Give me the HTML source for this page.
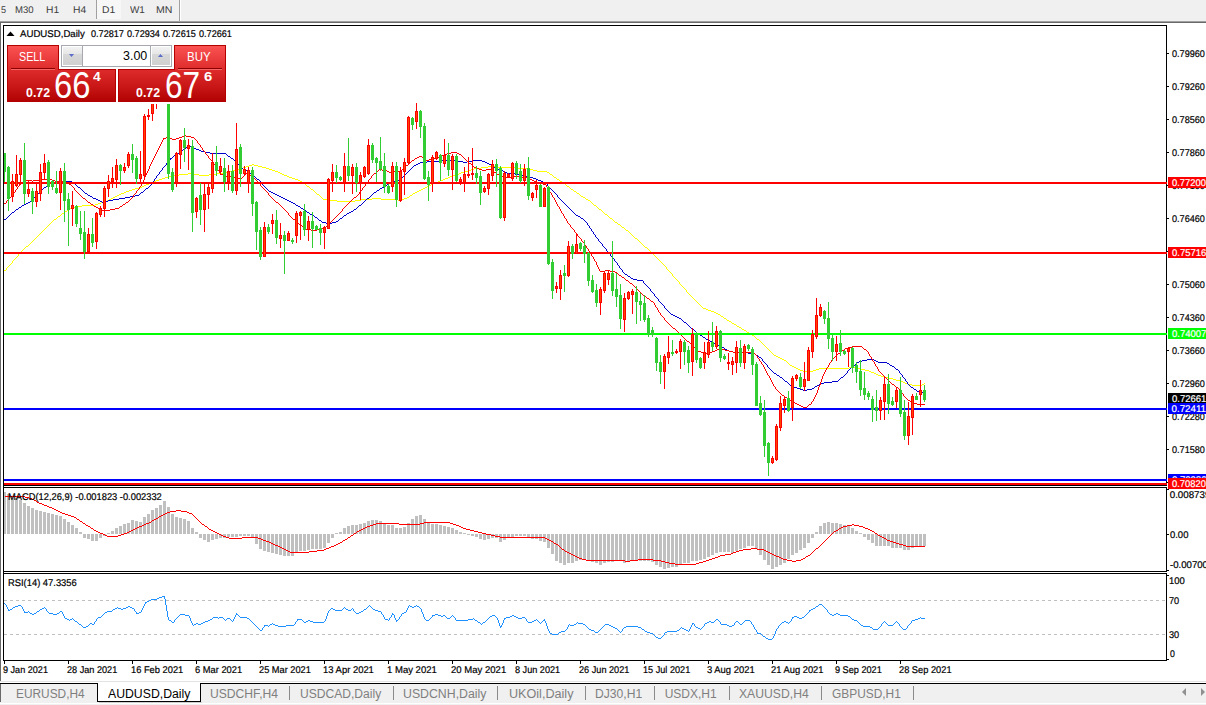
<!DOCTYPE html>
<html><head><meta charset="utf-8"><title>AUDUSD,Daily</title>
<style>
html,body{margin:0;padding:0;background:#fff;}
body{width:1206px;height:705px;overflow:hidden;position:relative;font-family:"Liberation Sans",sans-serif;}
.t{position:absolute;white-space:pre;line-height:1;transform-origin:0 0;font-family:"Liberation Sans",sans-serif;}
.abs{position:absolute;}
svg{position:absolute;left:0;top:0;}
</style></head><body>
<!-- toolbar -->
<div class="abs" style="left:0;top:0;width:1206px;height:21px;background:#f0f0f0"></div>
<div class="abs" style="left:96px;top:0;width:1px;height:19px;background:#a0a0a0"></div>
<div class="abs" style="left:97px;top:0;width:24px;height:19px;background:#f7f7f7"></div>
<div class="abs" style="left:179px;top:0;width:1px;height:21px;background:#a0a0a0"></div>
<div class="abs" style="left:180px;top:0;width:1px;height:21px;background:#fff"></div>
<div class="abs" style="left:0;top:21px;width:1206px;height:1px;background:#a0a0a0"></div>
<div class="abs" style="left:0;top:22px;width:1206px;height:1px;background:#696969"></div>
<div class="abs" style="left:0;top:22px;width:1px;height:659px;background:#696969"></div>
<!-- chart -->
<svg width="1206" height="705" viewBox="0 0 1206 705">
<g shape-rendering="crispEdges">
<path d="M4 270.5h2M6.5 268v2M7 267.5h1M8 266.5h1M9 265.5h1M10 264.5h1M11 263.5h1M12.5 261v2M13 260.5h1M14 259.5h1M15 258.5h1M16 257.5h1M17 256.5h1M18.5 254v2M19 253.5h1M20 252.5h1M21 251.5h1M22 250.5h1M23 249.5h1M24 248.5h1M25 247.5h1M26 246.5h2M28 245.5h1M29 244.5h1M30 243.5h1M31 242.5h1M32 241.5h1M33 240.5h1M34 239.5h1M35 238.5h1M36 237.5h1M37 236.5h1M38 235.5h1M39 234.5h1M40 233.5h1M41 232.5h1M42 231.5h1M43 230.5h1M44 229.5h1M45 228.5h1M46 227.5h1M47 226.5h1M48 225.5h1M49 224.5h1M50 223.5h1M51 222.5h1M52 221.5h1M53 220.5h1M54 219.5h2M56 218.5h1M57 217.5h1M58 216.5h2M60 215.5h1M61 214.5h1M62 213.5h2M64 212.5h1M65 211.5h2M67 210.5h2M69 209.5h1M70 208.5h2M72 207.5h4M76 206.5h6M82 205.5h13M95 204.5h3M98 203.5h3M101 202.5h3M104 201.5h3M107 200.5h2M109 199.5h2M111 198.5h2M113 197.5h2M115 196.5h2M117 195.5h2M119 194.5h2M121 193.5h3M124 192.5h2M126 191.5h3M129 190.5h3M132 189.5h3M135 188.5h4M139 187.5h3M142 186.5h2M144 185.5h2M146 184.5h3M149 183.5h2M151 182.5h3M154 181.5h2M156 180.5h3M159 179.5h3M162 178.5h3M165 177.5h4M169 176.5h5M174 175.5h5M179 174.5h9M188 173.5h4M192 174.5h7M199 175.5h10M209 174.5h8M217 173.5h8M225 172.5h4M229 171.5h4M233 170.5h4M237 169.5h3M240 168.5h3M243 167.5h3M246 166.5h3M249 165.5h3M252 164.5h2M254 165.5h4M258 166.5h4M262 167.5h4M266 168.5h3M269 169.5h3M272 170.5h3M275 171.5h3M278 172.5h2M280 173.5h2M282 174.5h2M284 175.5h3M287 176.5h2M289 177.5h3M292 178.5h3M295 179.5h3M298 180.5h2M300 181.5h2M302 182.5h1M303 183.5h2M305 184.5h1M306 185.5h1M307 186.5h2M309 187.5h1M310 188.5h1M311 189.5h2M313 190.5h1M314 191.5h1M315 192.5h1M316 193.5h1M317 194.5h2M319 195.5h1M320 196.5h1M321 197.5h1M322 198.5h1M323 199.5h5M328 200.5h9M337 201.5h18M355 200.5h6M361 199.5h11M372 198.5h9M381 199.5h17M398 200.5h3M401 199.5h3M404 198.5h3M407 197.5h2M409 196.5h1M410 195.5h2M412 194.5h1M413 193.5h2M415 192.5h2M417 191.5h2M419 190.5h2M421 189.5h2M423 188.5h2M425 187.5h2M427 186.5h2M429 185.5h2M431 184.5h2M433 183.5h3M436 182.5h2M438 181.5h2M440 180.5h3M443 179.5h2M445 178.5h3M448 177.5h2M450 176.5h3M453 175.5h3M456 174.5h3M459 173.5h2M461 172.5h3M464 171.5h4M468 170.5h3M471 169.5h3M474 168.5h7M481 167.5h7M488 166.5h7M495 167.5h23M518 168.5h11M529 169.5h4M533 170.5h4M537 171.5h10M547 172.5h2M549 173.5h1M550 174.5h2M552 175.5h1M553 176.5h1M554 177.5h2M556 178.5h1M557 179.5h2M559 180.5h1M560 181.5h2M562 182.5h1M563 183.5h2M565 184.5h1M566 185.5h1M567 186.5h2M569 187.5h1M570 188.5h1M571 189.5h2M573 190.5h1M574 191.5h2M576 192.5h1M577 193.5h2M579 194.5h1M580 195.5h1M581 196.5h2M583 197.5h2M585 198.5h1M586 199.5h2M588 200.5h2M590 201.5h1M591 202.5h1M592 203.5h1M593 204.5h1M594 205.5h2M596 206.5h1M597 207.5h1M598 208.5h1M599 209.5h2M601 210.5h1M602 211.5h1M603 212.5h1M604 213.5h1M605 214.5h2M607 215.5h1M608 216.5h1M609 217.5h1M610 218.5h2M612 219.5h1M613 220.5h1M614 221.5h1M615 222.5h2M617 223.5h1M618 224.5h2M620 225.5h1M621 226.5h1M622 227.5h2M624 228.5h1M625 229.5h1M626 230.5h2M628 231.5h1M629 232.5h1M630 233.5h1M631 234.5h1M632 235.5h1M633 236.5h1M634 237.5h1M635 238.5h2M637 239.5h1M638 240.5h1M639 241.5h1M640 242.5h1M641 243.5h1M642 244.5h1M643 245.5h1M644 246.5h1M645 247.5h2M647 248.5h1M648 249.5h1M649 250.5h1M650 251.5h1M651 252.5h1M652 253.5h1M653 254.5h1M654 255.5h1M655 256.5h1M656 257.5h1M657 258.5h1M658 259.5h1M659 260.5h1M660 261.5h1M661 262.5h1M662 263.5h1M663 264.5h1M664 265.5h1M665 266.5h1M666.5 267v2M667 269.5h1M668 270.5h1M669 271.5h1M670 272.5h1M671 273.5h1M672.5 274v2M673 276.5h1M674 277.5h1M675 278.5h1M676 279.5h1M677 280.5h1M678 281.5h1M679.5 282v2M680 284.5h1M681 285.5h1M682 286.5h1M683 287.5h1M684 288.5h1M685 289.5h1M686.5 290v2M687 292.5h1M688 293.5h1M689 294.5h1M690 295.5h1M691 296.5h1M692 297.5h1M693 298.5h1M694 299.5h1M695 300.5h1M696 301.5h1M697 302.5h1M698 303.5h1M699 304.5h1M700 305.5h1M701 306.5h1M702 307.5h1M703 308.5h3M706 309.5h2M708 310.5h3M711 311.5h3M714 312.5h2M716 313.5h2M718 314.5h2M720 315.5h1M721 316.5h2M723 317.5h1M724 318.5h2M726 319.5h1M727 320.5h2M729 321.5h2M731 322.5h1M732 323.5h2M734 324.5h2M736 325.5h1M737 326.5h2M739 327.5h2M741 328.5h1M742 329.5h2M744 330.5h2M746 331.5h1M747 332.5h2M749 333.5h2M751 334.5h1M752 335.5h2M754 336.5h1M755 337.5h1M756 338.5h1M757 339.5h2M759 340.5h1M760 341.5h1M761 342.5h1M762 343.5h1M763 344.5h1M764 345.5h1M765 346.5h1M766 347.5h1M767 348.5h1M768 349.5h1M769 350.5h1M770 351.5h1M771 352.5h1M772 353.5h1M773 354.5h1M774 355.5h2M776 356.5h2M778 357.5h2M780 358.5h2M782 359.5h2M784 360.5h2M786 361.5h1M787 362.5h1M788 363.5h1M789 364.5h1M790 365.5h2M792 366.5h2M794 367.5h2M796 368.5h2M798 369.5h2M800 370.5h3M803 371.5h10M813 370.5h3M816 369.5h3M819 368.5h30M849 367.5h8M857 368.5h4M861 369.5h4M865 370.5h4M869 371.5h2M871 372.5h3M874 373.5h2M876 374.5h2M878 375.5h3M881 376.5h4M885 377.5h4M889 378.5h4M893 379.5h3M896 380.5h4M900 381.5h3M903 382.5h2M905 383.5h3M908 384.5h4M912 385.5h10M922 384.5h2M924 383.5h1" fill="none" stroke="#ffff00" stroke-width="1"/>
<path d="M4 219.5h2M6 218.5h1M7 217.5h1M8 216.5h1M9 215.5h1M10 214.5h1M11 213.5h1M12 212.5h2M14 211.5h1M15 210.5h1M16 209.5h2M18 208.5h1M19 207.5h2M21 206.5h1M22 205.5h2M24 204.5h2M26 203.5h2M28 202.5h2M30 201.5h1M31 200.5h1M32 199.5h1M33 198.5h1M34 197.5h1M35 196.5h1M36 195.5h1M37 194.5h1M38 193.5h1M39 192.5h1M40 191.5h1M41 190.5h1M42 189.5h1M43 188.5h1M44 187.5h2M46 186.5h1M47 185.5h1M48 184.5h2M50 183.5h2M52 182.5h3M55 181.5h17M72 182.5h1M73 183.5h2M75 184.5h1M76 185.5h1M77 186.5h1M78 187.5h2M80 188.5h1M81 189.5h1M82 190.5h1M83 191.5h1M84 192.5h1M85 193.5h2M87 194.5h1M88 195.5h2M90 196.5h2M92 197.5h1M93 198.5h3M96 199.5h2M98 200.5h2M100 201.5h2M102 202.5h1M103 201.5h5M108 200.5h5M113 199.5h6M119 198.5h6M125 197.5h5M130 196.5h5M135 195.5h4M139 194.5h1M140 193.5h1M141 192.5h2M143 191.5h1M144 190.5h1M145 189.5h1M146 188.5h2M148 187.5h1M149 186.5h1M150 185.5h1M151.5 183v2M152 182.5h1M153 181.5h1M154.5 179v2M155 178.5h1M156.5 176v2M157 175.5h1M158 174.5h1M159.5 172v2M160 171.5h1M161 170.5h1M162.5 168v2M163 167.5h1M164 166.5h1M165 165.5h1M166.5 163v2M167 162.5h1M168 161.5h1M169 160.5h1M170.5 158v2M171 158.5h1M172 157.5h1M173 156.5h1M174 155.5h2M176 154.5h1M177 153.5h2M179 152.5h1M180 151.5h2M182 150.5h1M183 149.5h2M185 148.5h1M186 147.5h2M188 146.5h3M191 147.5h3M194 148.5h2M196 149.5h3M199 150.5h2M201 151.5h4M205 152.5h5M210 153.5h16M226 154.5h1M227 155.5h1M228 156.5h2M230 157.5h1M231 158.5h2M233 159.5h1M234 160.5h1M235 161.5h1M236 162.5h1M237 163.5h1M238 164.5h1M239 165.5h1M240 166.5h1M241 167.5h1M242 168.5h1M243 169.5h2M245 170.5h2M247 171.5h1M248 172.5h2M250 173.5h1M251 174.5h1M252 175.5h2M254 176.5h1M255 177.5h1M256 178.5h1M257 179.5h2M259 180.5h1M260 181.5h1M261.5 182v2M262 184.5h1M263 185.5h1M264 186.5h1M265 187.5h1M266 188.5h1M267 189.5h1M268 190.5h1M269 191.5h2M271 192.5h2M273 193.5h2M275 194.5h2M277 195.5h2M279 196.5h2M281 197.5h2M283 198.5h2M285 199.5h2M287 200.5h2M289 201.5h2M291 202.5h2M293 203.5h2M295 204.5h1M296 205.5h2M298 206.5h2M300 207.5h1M301 208.5h2M303 209.5h1M304 210.5h2M306 211.5h1M307 212.5h2M309 213.5h1M310 214.5h2M312 215.5h2M314 216.5h1M315 217.5h2M317 218.5h1M318 219.5h1M319 220.5h2M321 221.5h1M322 222.5h4M326 223.5h6M332 222.5h4M336 221.5h2M338 220.5h1M339 219.5h1M340 218.5h2M342 217.5h1M343 216.5h1M344 215.5h2M346 214.5h1M347 213.5h2M349 212.5h2M351 211.5h2M353 210.5h1M354 209.5h2M356 208.5h1M357 207.5h1M358 206.5h1M359 205.5h2M361 204.5h1M362 203.5h1M363 202.5h1M364 201.5h1M365 200.5h1M366 199.5h1M367 198.5h2M369 197.5h1M370 196.5h1M371 195.5h1M372 194.5h1M373 193.5h1M374 192.5h2M376 191.5h1M377 190.5h2M379 189.5h1M380 188.5h2M382 187.5h2M384 186.5h1M385 185.5h2M387 184.5h1M388 183.5h1M389 182.5h2M391 181.5h4M395 180.5h4M399 179.5h2M401 178.5h1M402 177.5h1M403 176.5h1M404 175.5h1M405 174.5h1M406 173.5h1M407 172.5h1M408 171.5h1M409 170.5h1M410 169.5h1M411 168.5h1M412 167.5h1M413 166.5h1M414 165.5h2M416 164.5h2M418 163.5h2M420 162.5h7M427 161.5h15M442 160.5h14M456 161.5h7M463 162.5h4M467 161.5h5M472 160.5h10M482 161.5h3M485 162.5h2M487 163.5h2M489 164.5h2M491 165.5h2M493 166.5h1M494 167.5h2M496 168.5h2M498 169.5h2M500 170.5h3M503 171.5h2M505 172.5h2M507 173.5h8M515 174.5h6M521 175.5h5M526 176.5h3M529 177.5h4M533 178.5h3M536 179.5h2M538 180.5h3M541 181.5h2M543 182.5h2M545 183.5h2M547.5 184v2M548 186.5h1M549 187.5h1M550 188.5h1M551 189.5h1M552 190.5h1M553 191.5h1M554 192.5h1M555 193.5h1M556 194.5h1M557.5 195v2M558 197.5h1M559 198.5h1M560 199.5h1M561 200.5h1M562 201.5h1M563 202.5h1M564 203.5h1M565 204.5h1M566 205.5h1M567 206.5h1M568 207.5h1M569 208.5h1M570 209.5h1M571 210.5h1M572 211.5h1M573 212.5h1M574 213.5h1M575 214.5h1M576 215.5h2M578 216.5h2M580 217.5h1M581 218.5h2M583 219.5h1M584 220.5h1M585 221.5h1M586 222.5h1M587.5 223v2M588 225.5h1M589.5 226v2M590 228.5h1M591.5 229v2M592 231.5h1M593.5 232v2M594 234.5h1M595.5 235v2M596 237.5h1M597 238.5h1M598.5 239v2M599 241.5h1M600 242.5h1M601 243.5h1M602.5 244v2M603 246.5h1M604 247.5h1M605 248.5h1M606.5 249v2M607 251.5h1M608 252.5h1M609 253.5h1M610.5 254v2M611 256.5h1M612 257.5h1M613 258.5h1M614.5 259v2M615 261.5h1M616 262.5h1M617.5 263v2M618 265.5h1M619.5 266v2M620 268.5h1M621 269.5h1M622.5 270v2M623 272.5h1M624 273.5h1M625 274.5h2M627 275.5h1M628 276.5h2M630 277.5h1M631 278.5h2M633 279.5h4M637 280.5h6M643.5 281v2M644 283.5h1M645 284.5h1M646 285.5h1M647 286.5h1M648 287.5h1M649 288.5h1M650.5 289v2M651 291.5h1M652 292.5h1M653 293.5h1M654.5 294v2M655 296.5h1M656 297.5h1M657 298.5h1M658.5 299v2M659 301.5h1M660 302.5h1M661 303.5h1M662 304.5h1M663 305.5h1M664.5 306v2M665 308.5h1M666 309.5h1M667 310.5h1M668 311.5h1M669 312.5h1M670 313.5h1M671 314.5h2M673 315.5h2M675 316.5h2M677 317.5h2M679 318.5h2M681 319.5h1M682 320.5h1M683 321.5h1M684 322.5h2M686 323.5h1M687 324.5h1M688 325.5h1M689 326.5h1M690 327.5h1M691 328.5h2M693 329.5h1M694 330.5h1M695 331.5h1M696 332.5h1M697 333.5h2M699 334.5h1M700 335.5h2M702 336.5h1M703 337.5h2M705 338.5h1M706 339.5h2M708 340.5h2M710 341.5h2M712 342.5h2M714 343.5h2M716 344.5h2M718 345.5h2M720 346.5h2M722 347.5h2M724 348.5h1M725 349.5h2M727 350.5h2M729 351.5h4M733 352.5h15M748 353.5h7M755 354.5h1M756 355.5h2M758 356.5h1M759 357.5h2M761 358.5h1M762.5 359v2M763 361.5h1M764 362.5h1M765 363.5h1M766 364.5h1M767.5 365v2M768 367.5h1M769 368.5h1M770 369.5h1M771 370.5h1M772 371.5h1M773 372.5h1M774 373.5h2M776 374.5h1M777 375.5h2M779 376.5h1M780 377.5h2M782 378.5h1M783 379.5h1M784 380.5h1M785 381.5h2M787 382.5h1M788 383.5h1M789 384.5h1M790 385.5h1M791 386.5h3M794 387.5h3M797 388.5h3M800 389.5h3M803 390.5h4M807 389.5h5M812 388.5h2M814 387.5h1M815 386.5h2M817 385.5h2M819 384.5h2M821 383.5h3M824 382.5h8M832 381.5h6M838 380.5h1M839 379.5h1M840 378.5h1M841 377.5h2M843 376.5h1M844 375.5h1M845 374.5h1M846 373.5h1M847.5 371v2M848 370.5h1M849 369.5h1M850 368.5h1M851 367.5h1M852 366.5h2M854 365.5h1M855 364.5h1M856 363.5h1M857 362.5h2M859 361.5h3M862 360.5h5M867 359.5h7M874 360.5h2M876 361.5h2M878 362.5h9M887 363.5h2M889 364.5h1M890 365.5h2M892 366.5h2M894 367.5h1M895 368.5h1M896 369.5h2M898 370.5h1M899.5 371v2M900 373.5h1M901 374.5h1M902.5 375v2M903 377.5h1M904 378.5h1M905.5 379v2M906 381.5h1M907.5 382v2M908 384.5h1M909 385.5h1M910 386.5h1M911 387.5h2M913 388.5h1M914 389.5h2M916 390.5h1M917 391.5h3M920 392.5h5" fill="none" stroke="#0000cd" stroke-width="1"/>
<path d="M4 203.5h2M6.5 201v2M7 200.5h1M8 199.5h1M9 198.5h1M10 197.5h1M11.5 195v2M12 194.5h1M13 193.5h1M14 192.5h1M15.5 190v2M16 189.5h1M17.5 187v2M18 186.5h1M19.5 184v2M20 183.5h2M22 182.5h1M23 181.5h1M24 180.5h1M25 179.5h1M26 180.5h6M32 181.5h1M33 180.5h7M40 179.5h12M52 180.5h3M55 181.5h10M65 182.5h2M67 183.5h2M69 184.5h2M71 185.5h1M72 186.5h1M73 187.5h1M74.5 188v2M75 190.5h1M76 191.5h1M77 192.5h1M78 193.5h1M79 194.5h1M80 195.5h1M81 196.5h1M82 197.5h1M83 198.5h2M85 199.5h1M86 200.5h1M87 201.5h1M88 202.5h2M90 203.5h1M91 204.5h2M93 205.5h1M94 206.5h2M96 207.5h2M98 208.5h2M100 209.5h2M102 210.5h2M104 211.5h1M105 210.5h5M110 209.5h5M115 208.5h4M119 207.5h1M120 206.5h2M122 205.5h1M123 204.5h2M125 203.5h1M126 202.5h2M128 201.5h1M129 200.5h1M130 199.5h1M131 198.5h1M132 197.5h1M133.5 195v2M134 194.5h1M135 193.5h1M136.5 191v2M137 190.5h1M138 189.5h1M139.5 187v2M140 186.5h1M141.5 184v2M142.5 182v2M143.5 180v2M144.5 177v3M145.5 175v2M146.5 173v2M147.5 171v2M148.5 169v2M149.5 166v3M150.5 164v2M151.5 162v2M152.5 160v2M153.5 158v2M154.5 156v2M155.5 154v2M156.5 152v2M157.5 150v2M158.5 148v2M159.5 146v2M160.5 144v2M161.5 142v2M162.5 140v2M163.5 138v2M164 138.5h2M166 137.5h4M170 138.5h2M172 139.5h4M176 138.5h3M179 137.5h3M182 136.5h3M185 135.5h1M186 136.5h5M191 137.5h3M194 138.5h1M195 139.5h1M196 140.5h1M197.5 141v2M198 143.5h1M199 144.5h1M200.5 145v2M201 147.5h1M202.5 148v2M203 150.5h1M204 151.5h1M205.5 152v2M206 154.5h1M207 155.5h1M208.5 156v2M209 158.5h1M210 159.5h1M211 160.5h1M212.5 161v2M213 163.5h1M214 164.5h1M215.5 165v2M216 167.5h1M217.5 168v2M218 170.5h1M219.5 171v2M220.5 173v2M221 174.5h2M223 175.5h3M226 176.5h8M234 177.5h3M237 178.5h3M240 179.5h1M241 178.5h1M242 177.5h1M243 176.5h1M244 175.5h1M245 174.5h1M246 173.5h1M247 174.5h2M249 175.5h2M251 176.5h2M253 177.5h1M254 178.5h1M255 179.5h1M256 180.5h1M257 181.5h1M258 182.5h1M259 183.5h1M260.5 184v2M261 186.5h1M262 187.5h1M263 188.5h1M264 189.5h1M265 190.5h1M266 191.5h1M267 192.5h1M268.5 193v2M269 195.5h1M270 196.5h1M271 197.5h1M272 198.5h1M273 199.5h1M274 200.5h1M275 201.5h1M276 202.5h2M278 203.5h1M279 204.5h1M280 205.5h1M281 206.5h1M282 207.5h1M283 208.5h1M284 209.5h1M285 210.5h1M286 211.5h1M287 212.5h1M288.5 213v2M289 215.5h1M290 216.5h1M291 217.5h1M292 218.5h1M293 219.5h2M295 220.5h1M296 221.5h1M297 222.5h1M298 223.5h1M299 224.5h1M300 225.5h2M302 226.5h1M303 227.5h1M304 228.5h1M305 229.5h6M311 230.5h6M317 229.5h4M321 228.5h3M324 227.5h2M326 226.5h1M327 225.5h1M328 224.5h1M329 223.5h1M330 222.5h1M331 221.5h1M332 220.5h1M333 219.5h1M334 218.5h1M335 217.5h1M336 216.5h1M337 215.5h1M338 214.5h1M339 213.5h1M340 212.5h1M341 211.5h1M342.5 209v2M343 208.5h1M344 207.5h1M345 206.5h1M346 205.5h1M347 204.5h1M348 203.5h1M349 202.5h1M350 201.5h1M351 200.5h1M352 199.5h1M353 198.5h1M354 197.5h2M356 196.5h1M357 195.5h1M358 194.5h1M359.5 192v2M360 191.5h1M361 190.5h1M362.5 188v2M363 187.5h1M364 186.5h1M365.5 184v2M366 183.5h1M367 182.5h1M368.5 180v2M369 179.5h1M370 178.5h1M371.5 176v2M372 175.5h1M373 174.5h1M374 173.5h2M376 172.5h1M377 171.5h1M378 170.5h1M379 169.5h3M382 170.5h5M387 171.5h2M389 172.5h5M394 171.5h6M400 170.5h2M402 169.5h1M403 168.5h1M404 167.5h1M405 166.5h1M406 165.5h2M408 164.5h1M409 163.5h1M410 162.5h1M411 161.5h1M412 160.5h2M414 159.5h1M415 158.5h2M417 157.5h2M419 156.5h3M422 157.5h1M423 158.5h2M425 159.5h1M426 160.5h3M429 159.5h5M434 158.5h3M437 157.5h3M440 156.5h2M442 155.5h3M445 154.5h2M447 153.5h4M451 152.5h6M457 153.5h2M459 154.5h2M461 155.5h1M462 156.5h1M463 157.5h1M464 158.5h1M465 159.5h1M466 160.5h1M467 161.5h1M468 162.5h1M469 163.5h2M471 164.5h1M472 165.5h1M473 166.5h1M474 167.5h2M476 168.5h3M479 169.5h3M482 170.5h4M486 169.5h5M491 170.5h1M492 171.5h2M494 172.5h2M496 173.5h1M497 174.5h3M500 175.5h2M502 176.5h3M505 177.5h9M514 176.5h6M520 177.5h7M527 178.5h2M529 179.5h3M532 180.5h2M534 181.5h2M536 182.5h3M539 183.5h4M543 184.5h3M546.5 185v2M547 187.5h1M548.5 188v2M549.5 190v2M550 192.5h1M551.5 193v2M552.5 195v2M553 197.5h1M554.5 198v2M555.5 200v2M556.5 202v2M557.5 204v2M558 206.5h1M559.5 207v2M560.5 209v2M561.5 211v2M562 213.5h1M563.5 214v2M564.5 216v2M565 218.5h1M566.5 219v2M567.5 221v2M568 223.5h1M569 224.5h1M570.5 225v2M571 227.5h1M572 228.5h1M573 229.5h1M574.5 230v2M575 232.5h1M576 233.5h1M577.5 234v2M578 236.5h1M579 237.5h1M580 238.5h1M581.5 239v2M582 241.5h1M583 242.5h1M584.5 243v2M585 245.5h1M586.5 246v2M587 248.5h1M588.5 249v2M589.5 251v2M590 253.5h1M591.5 254v2M592 256.5h1M593.5 257v2M594.5 259v2M595 261.5h1M596.5 262v3M597.5 265v2M598.5 267v2M599.5 269v2M600 271.5h5M605 270.5h5M610 271.5h5M615 272.5h2M617 273.5h1M618 274.5h1M619 275.5h2M621 276.5h1M622 277.5h2M624 278.5h1M625 279.5h1M626 280.5h2M628 281.5h1M629 282.5h1M630 283.5h2M632 284.5h1M633 285.5h1M634 286.5h1M635 287.5h1M636 288.5h1M637 289.5h1M638 290.5h1M639 291.5h1M640 292.5h1M641 293.5h1M642 294.5h1M643 295.5h2M645 296.5h1M646 297.5h1M647 298.5h2M649 299.5h1M650 300.5h1M651 301.5h2M653 302.5h1M654.5 303v2M655.5 305v2M656 307.5h1M657.5 308v2M658.5 310v2M659 312.5h1M660.5 313v2M661 315.5h1M662 316.5h1M663 317.5h1M664.5 318v2M665 320.5h1M666 321.5h1M667 322.5h1M668 323.5h1M669 324.5h1M670 325.5h1M671 326.5h1M672 327.5h1M673 328.5h2M675 329.5h1M676 330.5h1M677 331.5h1M678 332.5h1M679 333.5h1M680 334.5h1M681 335.5h1M682 336.5h1M683 337.5h1M684 338.5h1M685 339.5h1M686 340.5h1M687 341.5h2M689 342.5h1M690 343.5h1M691 344.5h1M692 345.5h1M693 346.5h1M694 347.5h1M695 348.5h1M696 349.5h1M697 350.5h1M698 351.5h3M701 352.5h3M704 353.5h4M708 352.5h4M712 351.5h3M715 350.5h2M717 349.5h2M719 348.5h3M722 349.5h3M725 350.5h4M729 351.5h4M733 352.5h21M754 353.5h1M755 354.5h1M756 355.5h1M757.5 356v2M758 358.5h1M759.5 359v2M760 361.5h1M761.5 362v2M762 364.5h1M763.5 365v2M764.5 367v2M765.5 369v2M766.5 371v2M767.5 373v2M768 375.5h1M769.5 376v2M770.5 378v2M771.5 380v2M772.5 382v2M773.5 384v2M774 386.5h1M775.5 387v2M776 389.5h1M777 390.5h1M778 391.5h1M779 392.5h1M780 393.5h1M781 394.5h1M782 395.5h2M784 396.5h1M785 397.5h2M787 398.5h1M788 399.5h2M790 400.5h2M792 401.5h2M794 402.5h1M795 403.5h2M797 404.5h2M799 405.5h2M801 406.5h2M803 407.5h4M807 406.5h1M808 405.5h1M809 404.5h2M811.5 402v2M812 401.5h1M813.5 399v2M814.5 397v2M815.5 395v2M816.5 393v2M817.5 390v3M818.5 387v3M819.5 385v2M820.5 382v3M821.5 379v3M822.5 376v3M823.5 374v2M824.5 372v2M825.5 370v2M826.5 368v2M827 367.5h1M828.5 365v2M829.5 363v2M830 362.5h1M831.5 360v2M832 359.5h1M833 358.5h1M834 357.5h1M835 356.5h1M836 355.5h1M837 354.5h1M838 353.5h2M840 352.5h1M841 351.5h1M842 350.5h2M844 349.5h1M845 348.5h3M848 347.5h4M852 346.5h10M862 347.5h1M863 348.5h1M864 349.5h2M866 350.5h1M867 351.5h1M868.5 352v2M869.5 354v2M870 356.5h1M871.5 357v2M872.5 359v2M873 361.5h1M874.5 362v2M875.5 364v2M876 366.5h1M877.5 367v2M878.5 369v2M879 371.5h1M880 372.5h1M881 373.5h1M882 374.5h1M883 375.5h1M884 376.5h1M885 377.5h1M886 378.5h1M887 379.5h1M888 380.5h1M889 381.5h1M890 382.5h1M891 383.5h1M892 384.5h2M894 385.5h1M895 386.5h1M896 387.5h2M898 388.5h1M899.5 389v2M900 391.5h1M901 392.5h1M902 393.5h1M903.5 394v2M904 396.5h1M905 397.5h1M906 398.5h1M907 399.5h1M908 400.5h2M910 401.5h1M911 402.5h2M913 403.5h4M917 404.5h8" fill="none" stroke="#ff0000" stroke-width="1"/>
</g>
<g shape-rendering="crispEdges">
<rect x="4" y="182" width="1163" height="2" fill="#ff0000"/>
<rect x="4" y="252" width="1163" height="2" fill="#ff0000"/>
<rect x="4" y="333" width="1163" height="2" fill="#00ff00"/>
<rect x="4" y="408" width="1163" height="2" fill="#0000ff"/>
<rect x="4" y="479" width="1163" height="2" fill="#0000ff"/>
<rect x="4" y="483" width="1163" height="2" fill="#ff0000"/>
</g>
<g shape-rendering="crispEdges">
<rect x="4" y="153" width="1" height="29" fill="#32cd32"/>
<rect x="3" y="153" width="3" height="19" fill="#32cd32"/>
<rect x="8" y="166" width="1" height="45" fill="#32cd32"/>
<rect x="7" y="167" width="3" height="32" fill="#32cd32"/>
<rect x="12" y="174" width="1" height="28" fill="#ff0000"/>
<rect x="11" y="181" width="3" height="16" fill="#ff0000"/>
<rect x="12" y="182" width="1" height="14" fill="#ff4500"/>
<rect x="16" y="155" width="1" height="32" fill="#ff0000"/>
<rect x="15" y="174" width="3" height="12" fill="#ff0000"/>
<rect x="16" y="175" width="1" height="10" fill="#ff4500"/>
<rect x="20" y="158" width="1" height="27" fill="#ff0000"/>
<rect x="19" y="160" width="3" height="15" fill="#ff0000"/>
<rect x="20" y="161" width="1" height="13" fill="#ff4500"/>
<rect x="24" y="143" width="1" height="61" fill="#32cd32"/>
<rect x="23" y="160" width="3" height="34" fill="#32cd32"/>
<rect x="28" y="181" width="1" height="16" fill="#ff0000"/>
<rect x="27" y="189" width="3" height="5" fill="#ff0000"/>
<rect x="28" y="190" width="1" height="3" fill="#ff4500"/>
<rect x="32" y="188" width="1" height="26" fill="#32cd32"/>
<rect x="31" y="191" width="3" height="11" fill="#32cd32"/>
<rect x="36" y="182" width="1" height="25" fill="#ff0000"/>
<rect x="35" y="191" width="3" height="11" fill="#ff0000"/>
<rect x="36" y="192" width="1" height="9" fill="#ff4500"/>
<rect x="40" y="164" width="1" height="37" fill="#ff0000"/>
<rect x="39" y="172" width="3" height="22" fill="#ff0000"/>
<rect x="40" y="173" width="1" height="20" fill="#ff4500"/>
<rect x="44" y="154" width="1" height="25" fill="#ff0000"/>
<rect x="43" y="163" width="3" height="10" fill="#ff0000"/>
<rect x="44" y="164" width="1" height="8" fill="#ff4500"/>
<rect x="48" y="160" width="1" height="34" fill="#32cd32"/>
<rect x="47" y="162" width="3" height="25" fill="#32cd32"/>
<rect x="52" y="180" width="1" height="10" fill="#32cd32"/>
<rect x="51" y="181" width="3" height="6" fill="#32cd32"/>
<rect x="56" y="171" width="1" height="23" fill="#32cd32"/>
<rect x="55" y="188" width="3" height="5" fill="#32cd32"/>
<rect x="60" y="168" width="1" height="42" fill="#ff0000"/>
<rect x="59" y="171" width="3" height="22" fill="#ff0000"/>
<rect x="60" y="172" width="1" height="20" fill="#ff4500"/>
<rect x="64" y="163" width="1" height="59" fill="#32cd32"/>
<rect x="63" y="171" width="3" height="30" fill="#32cd32"/>
<rect x="68" y="193" width="1" height="53" fill="#32cd32"/>
<rect x="67" y="199" width="3" height="11" fill="#32cd32"/>
<rect x="72" y="191" width="1" height="35" fill="#ff0000"/>
<rect x="71" y="205" width="3" height="4" fill="#ff0000"/>
<rect x="72" y="206" width="1" height="2" fill="#ff4500"/>
<rect x="76" y="205" width="1" height="22" fill="#32cd32"/>
<rect x="75" y="206" width="3" height="18" fill="#32cd32"/>
<rect x="80" y="211" width="1" height="29" fill="#32cd32"/>
<rect x="79" y="228" width="3" height="6" fill="#32cd32"/>
<rect x="84" y="211" width="1" height="48" fill="#32cd32"/>
<rect x="83" y="232" width="3" height="20" fill="#32cd32"/>
<rect x="88" y="228" width="1" height="25" fill="#ff0000"/>
<rect x="87" y="234" width="3" height="18" fill="#ff0000"/>
<rect x="88" y="235" width="1" height="16" fill="#ff4500"/>
<rect x="92" y="218" width="1" height="29" fill="#32cd32"/>
<rect x="91" y="234" width="3" height="9" fill="#32cd32"/>
<rect x="96" y="212" width="1" height="37" fill="#ff0000"/>
<rect x="95" y="213" width="3" height="29" fill="#ff0000"/>
<rect x="96" y="214" width="1" height="27" fill="#ff4500"/>
<rect x="100" y="206" width="1" height="11" fill="#ff0000"/>
<rect x="99" y="208" width="3" height="7" fill="#ff0000"/>
<rect x="100" y="209" width="1" height="5" fill="#ff4500"/>
<rect x="104" y="186" width="1" height="31" fill="#ff0000"/>
<rect x="103" y="188" width="3" height="21" fill="#ff0000"/>
<rect x="104" y="189" width="1" height="19" fill="#ff4500"/>
<rect x="108" y="175" width="1" height="22" fill="#ff0000"/>
<rect x="107" y="181" width="3" height="8" fill="#ff0000"/>
<rect x="108" y="182" width="1" height="6" fill="#ff4500"/>
<rect x="112" y="167" width="1" height="21" fill="#ff0000"/>
<rect x="111" y="178" width="3" height="4" fill="#ff0000"/>
<rect x="112" y="179" width="1" height="2" fill="#ff4500"/>
<rect x="116" y="159" width="1" height="29" fill="#ff0000"/>
<rect x="115" y="165" width="3" height="15" fill="#ff0000"/>
<rect x="116" y="166" width="1" height="13" fill="#ff4500"/>
<rect x="120" y="164" width="1" height="21" fill="#32cd32"/>
<rect x="119" y="165" width="3" height="6" fill="#32cd32"/>
<rect x="124" y="163" width="1" height="10" fill="#ff0000"/>
<rect x="123" y="167" width="3" height="4" fill="#ff0000"/>
<rect x="124" y="168" width="1" height="2" fill="#ff4500"/>
<rect x="128" y="152" width="1" height="16" fill="#ff0000"/>
<rect x="127" y="154" width="3" height="12" fill="#ff0000"/>
<rect x="128" y="155" width="1" height="10" fill="#ff4500"/>
<rect x="132" y="144" width="1" height="29" fill="#32cd32"/>
<rect x="131" y="154" width="3" height="6" fill="#32cd32"/>
<rect x="136" y="156" width="1" height="28" fill="#32cd32"/>
<rect x="135" y="158" width="3" height="21" fill="#32cd32"/>
<rect x="140" y="151" width="1" height="32" fill="#ff0000"/>
<rect x="139" y="174" width="3" height="5" fill="#ff0000"/>
<rect x="140" y="175" width="1" height="3" fill="#ff4500"/>
<rect x="144" y="114" width="1" height="63" fill="#ff0000"/>
<rect x="143" y="116" width="3" height="60" fill="#ff0000"/>
<rect x="144" y="117" width="1" height="58" fill="#ff4500"/>
<rect x="148" y="109" width="1" height="11" fill="#ff0000"/>
<rect x="147" y="115" width="3" height="2" fill="#ff0000"/>
<rect x="152" y="95" width="1" height="26" fill="#ff0000"/>
<rect x="151" y="97" width="3" height="17" fill="#ff0000"/>
<rect x="152" y="98" width="1" height="15" fill="#ff4500"/>
<rect x="156" y="80" width="1" height="29" fill="#ff0000"/>
<rect x="155" y="85" width="3" height="16" fill="#ff0000"/>
<rect x="156" y="86" width="1" height="14" fill="#ff4500"/>
<rect x="160" y="55" width="1" height="36" fill="#ff0000"/>
<rect x="159" y="60" width="3" height="25" fill="#ff0000"/>
<rect x="160" y="61" width="1" height="23" fill="#ff4500"/>
<rect x="164" y="50" width="1" height="50" fill="#32cd32"/>
<rect x="163" y="55" width="3" height="43" fill="#32cd32"/>
<rect x="168" y="95" width="1" height="84" fill="#32cd32"/>
<rect x="167" y="97" width="3" height="77" fill="#32cd32"/>
<rect x="172" y="168" width="1" height="24" fill="#32cd32"/>
<rect x="171" y="172" width="3" height="18" fill="#32cd32"/>
<rect x="176" y="152" width="1" height="35" fill="#ff0000"/>
<rect x="175" y="153" width="3" height="30" fill="#ff0000"/>
<rect x="176" y="154" width="1" height="28" fill="#ff4500"/>
<rect x="180" y="139" width="1" height="30" fill="#ff0000"/>
<rect x="179" y="140" width="3" height="15" fill="#ff0000"/>
<rect x="180" y="141" width="1" height="13" fill="#ff4500"/>
<rect x="184" y="128" width="1" height="34" fill="#32cd32"/>
<rect x="183" y="140" width="3" height="8" fill="#32cd32"/>
<rect x="188" y="139" width="1" height="31" fill="#ff0000"/>
<rect x="187" y="145" width="3" height="4" fill="#ff0000"/>
<rect x="188" y="146" width="1" height="2" fill="#ff4500"/>
<rect x="192" y="140" width="1" height="92" fill="#32cd32"/>
<rect x="191" y="146" width="3" height="67" fill="#32cd32"/>
<rect x="196" y="197" width="1" height="21" fill="#ff0000"/>
<rect x="195" y="198" width="3" height="14" fill="#ff0000"/>
<rect x="196" y="199" width="1" height="12" fill="#ff4500"/>
<rect x="200" y="183" width="1" height="42" fill="#32cd32"/>
<rect x="199" y="195" width="3" height="15" fill="#32cd32"/>
<rect x="204" y="182" width="1" height="50" fill="#ff0000"/>
<rect x="203" y="194" width="3" height="16" fill="#ff0000"/>
<rect x="204" y="195" width="1" height="14" fill="#ff4500"/>
<rect x="208" y="182" width="1" height="27" fill="#ff0000"/>
<rect x="207" y="187" width="3" height="8" fill="#ff0000"/>
<rect x="208" y="188" width="1" height="6" fill="#ff4500"/>
<rect x="212" y="153" width="1" height="40" fill="#ff0000"/>
<rect x="211" y="162" width="3" height="27" fill="#ff0000"/>
<rect x="212" y="163" width="1" height="25" fill="#ff4500"/>
<rect x="216" y="146" width="1" height="30" fill="#32cd32"/>
<rect x="215" y="162" width="3" height="9" fill="#32cd32"/>
<rect x="220" y="158" width="1" height="16" fill="#ff0000"/>
<rect x="219" y="166" width="3" height="6" fill="#ff0000"/>
<rect x="220" y="167" width="1" height="4" fill="#ff4500"/>
<rect x="224" y="158" width="1" height="34" fill="#32cd32"/>
<rect x="223" y="168" width="3" height="14" fill="#32cd32"/>
<rect x="228" y="165" width="1" height="25" fill="#ff0000"/>
<rect x="227" y="171" width="3" height="11" fill="#ff0000"/>
<rect x="228" y="172" width="1" height="9" fill="#ff4500"/>
<rect x="232" y="165" width="1" height="28" fill="#32cd32"/>
<rect x="231" y="171" width="3" height="20" fill="#32cd32"/>
<rect x="236" y="123" width="1" height="72" fill="#ff0000"/>
<rect x="235" y="149" width="3" height="42" fill="#ff0000"/>
<rect x="236" y="150" width="1" height="40" fill="#ff4500"/>
<rect x="240" y="144" width="1" height="43" fill="#32cd32"/>
<rect x="239" y="147" width="3" height="27" fill="#32cd32"/>
<rect x="244" y="166" width="1" height="9" fill="#ff0000"/>
<rect x="243" y="169" width="3" height="5" fill="#ff0000"/>
<rect x="244" y="170" width="1" height="3" fill="#ff4500"/>
<rect x="248" y="167" width="1" height="26" fill="#ff0000"/>
<rect x="247" y="170" width="3" height="13" fill="#ff0000"/>
<rect x="248" y="171" width="1" height="11" fill="#ff4500"/>
<rect x="252" y="167" width="1" height="49" fill="#32cd32"/>
<rect x="251" y="170" width="3" height="34" fill="#32cd32"/>
<rect x="256" y="201" width="1" height="49" fill="#32cd32"/>
<rect x="255" y="202" width="3" height="30" fill="#32cd32"/>
<rect x="260" y="227" width="1" height="33" fill="#32cd32"/>
<rect x="259" y="230" width="3" height="27" fill="#32cd32"/>
<rect x="264" y="222" width="1" height="35" fill="#ff0000"/>
<rect x="263" y="227" width="3" height="30" fill="#ff0000"/>
<rect x="264" y="228" width="1" height="28" fill="#ff4500"/>
<rect x="268" y="224" width="1" height="10" fill="#32cd32"/>
<rect x="267" y="227" width="3" height="5" fill="#32cd32"/>
<rect x="272" y="214" width="1" height="20" fill="#ff0000"/>
<rect x="271" y="220" width="3" height="4" fill="#ff0000"/>
<rect x="272" y="221" width="1" height="2" fill="#ff4500"/>
<rect x="276" y="210" width="1" height="34" fill="#32cd32"/>
<rect x="275" y="220" width="3" height="18" fill="#32cd32"/>
<rect x="280" y="223" width="1" height="25" fill="#ff0000"/>
<rect x="279" y="235" width="3" height="4" fill="#ff0000"/>
<rect x="280" y="236" width="1" height="2" fill="#ff4500"/>
<rect x="284" y="231" width="1" height="43" fill="#32cd32"/>
<rect x="283" y="235" width="3" height="6" fill="#32cd32"/>
<rect x="288" y="231" width="1" height="10" fill="#ff0000"/>
<rect x="287" y="233" width="3" height="8" fill="#ff0000"/>
<rect x="288" y="234" width="1" height="6" fill="#ff4500"/>
<rect x="292" y="238" width="1" height="6" fill="#32cd32"/>
<rect x="291" y="240" width="3" height="2" fill="#32cd32"/>
<rect x="296" y="211" width="1" height="32" fill="#ff0000"/>
<rect x="295" y="213" width="3" height="23" fill="#ff0000"/>
<rect x="296" y="214" width="1" height="21" fill="#ff4500"/>
<rect x="300" y="211" width="1" height="29" fill="#ff0000"/>
<rect x="299" y="212" width="3" height="4" fill="#ff0000"/>
<rect x="300" y="213" width="1" height="2" fill="#ff4500"/>
<rect x="304" y="204" width="1" height="32" fill="#32cd32"/>
<rect x="303" y="211" width="3" height="19" fill="#32cd32"/>
<rect x="308" y="216" width="1" height="25" fill="#ff0000"/>
<rect x="307" y="221" width="3" height="9" fill="#ff0000"/>
<rect x="308" y="222" width="1" height="7" fill="#ff4500"/>
<rect x="312" y="212" width="1" height="36" fill="#32cd32"/>
<rect x="311" y="221" width="3" height="8" fill="#32cd32"/>
<rect x="316" y="225" width="1" height="5" fill="#32cd32"/>
<rect x="315" y="226" width="3" height="4" fill="#32cd32"/>
<rect x="320" y="224" width="1" height="21" fill="#32cd32"/>
<rect x="319" y="228" width="3" height="5" fill="#32cd32"/>
<rect x="324" y="226" width="1" height="23" fill="#ff0000"/>
<rect x="323" y="227" width="3" height="6" fill="#ff0000"/>
<rect x="324" y="228" width="1" height="4" fill="#ff4500"/>
<rect x="328" y="178" width="1" height="51" fill="#ff0000"/>
<rect x="327" y="179" width="3" height="50" fill="#ff0000"/>
<rect x="328" y="180" width="1" height="48" fill="#ff4500"/>
<rect x="332" y="164" width="1" height="28" fill="#ff0000"/>
<rect x="331" y="172" width="3" height="9" fill="#ff0000"/>
<rect x="332" y="173" width="1" height="7" fill="#ff4500"/>
<rect x="336" y="165" width="1" height="18" fill="#32cd32"/>
<rect x="335" y="172" width="3" height="6" fill="#32cd32"/>
<rect x="340" y="176" width="1" height="5" fill="#32cd32"/>
<rect x="339" y="177" width="3" height="3" fill="#32cd32"/>
<rect x="344" y="153" width="1" height="39" fill="#ff0000"/>
<rect x="343" y="166" width="3" height="17" fill="#ff0000"/>
<rect x="344" y="167" width="1" height="15" fill="#ff4500"/>
<rect x="348" y="138" width="1" height="43" fill="#32cd32"/>
<rect x="347" y="166" width="3" height="10" fill="#32cd32"/>
<rect x="352" y="164" width="1" height="30" fill="#ff0000"/>
<rect x="351" y="167" width="3" height="9" fill="#ff0000"/>
<rect x="352" y="168" width="1" height="7" fill="#ff4500"/>
<rect x="356" y="163" width="1" height="29" fill="#32cd32"/>
<rect x="355" y="167" width="3" height="16" fill="#32cd32"/>
<rect x="360" y="172" width="1" height="28" fill="#ff0000"/>
<rect x="359" y="175" width="3" height="8" fill="#ff0000"/>
<rect x="360" y="176" width="1" height="6" fill="#ff4500"/>
<rect x="364" y="166" width="1" height="12" fill="#ff0000"/>
<rect x="363" y="167" width="3" height="10" fill="#ff0000"/>
<rect x="364" y="168" width="1" height="8" fill="#ff4500"/>
<rect x="368" y="139" width="1" height="36" fill="#ff0000"/>
<rect x="367" y="145" width="3" height="29" fill="#ff0000"/>
<rect x="368" y="146" width="1" height="27" fill="#ff4500"/>
<rect x="372" y="143" width="1" height="20" fill="#32cd32"/>
<rect x="371" y="145" width="3" height="15" fill="#32cd32"/>
<rect x="376" y="157" width="1" height="25" fill="#32cd32"/>
<rect x="375" y="158" width="3" height="5" fill="#32cd32"/>
<rect x="380" y="137" width="1" height="34" fill="#32cd32"/>
<rect x="379" y="161" width="3" height="8" fill="#32cd32"/>
<rect x="384" y="153" width="1" height="40" fill="#32cd32"/>
<rect x="383" y="166" width="3" height="21" fill="#32cd32"/>
<rect x="388" y="184" width="1" height="10" fill="#32cd32"/>
<rect x="387" y="186" width="3" height="7" fill="#32cd32"/>
<rect x="392" y="162" width="1" height="30" fill="#ff0000"/>
<rect x="391" y="166" width="3" height="21" fill="#ff0000"/>
<rect x="392" y="167" width="1" height="19" fill="#ff4500"/>
<rect x="396" y="162" width="1" height="45" fill="#32cd32"/>
<rect x="395" y="166" width="3" height="34" fill="#32cd32"/>
<rect x="400" y="167" width="1" height="35" fill="#ff0000"/>
<rect x="399" y="171" width="3" height="30" fill="#ff0000"/>
<rect x="400" y="172" width="1" height="28" fill="#ff4500"/>
<rect x="404" y="158" width="1" height="37" fill="#ff0000"/>
<rect x="403" y="162" width="3" height="10" fill="#ff0000"/>
<rect x="404" y="163" width="1" height="8" fill="#ff4500"/>
<rect x="408" y="116" width="1" height="48" fill="#ff0000"/>
<rect x="407" y="117" width="3" height="46" fill="#ff0000"/>
<rect x="408" y="118" width="1" height="44" fill="#ff4500"/>
<rect x="412" y="117" width="1" height="13" fill="#32cd32"/>
<rect x="411" y="118" width="3" height="7" fill="#32cd32"/>
<rect x="416" y="103" width="1" height="26" fill="#ff0000"/>
<rect x="415" y="111" width="3" height="11" fill="#ff0000"/>
<rect x="416" y="112" width="1" height="9" fill="#ff4500"/>
<rect x="420" y="110" width="1" height="28" fill="#32cd32"/>
<rect x="419" y="111" width="3" height="16" fill="#32cd32"/>
<rect x="424" y="123" width="1" height="57" fill="#32cd32"/>
<rect x="423" y="126" width="3" height="53" fill="#32cd32"/>
<rect x="428" y="171" width="1" height="30" fill="#32cd32"/>
<rect x="427" y="177" width="3" height="8" fill="#32cd32"/>
<rect x="432" y="155" width="1" height="37" fill="#ff0000"/>
<rect x="431" y="157" width="3" height="27" fill="#ff0000"/>
<rect x="432" y="158" width="1" height="25" fill="#ff4500"/>
<rect x="436" y="151" width="1" height="9" fill="#ff0000"/>
<rect x="435" y="152" width="3" height="7" fill="#ff0000"/>
<rect x="436" y="153" width="1" height="5" fill="#ff4500"/>
<rect x="440" y="154" width="1" height="27" fill="#32cd32"/>
<rect x="439" y="155" width="3" height="8" fill="#32cd32"/>
<rect x="444" y="139" width="1" height="28" fill="#ff0000"/>
<rect x="443" y="155" width="3" height="9" fill="#ff0000"/>
<rect x="444" y="156" width="1" height="7" fill="#ff4500"/>
<rect x="448" y="143" width="1" height="33" fill="#32cd32"/>
<rect x="447" y="155" width="3" height="15" fill="#32cd32"/>
<rect x="452" y="154" width="1" height="36" fill="#ff0000"/>
<rect x="451" y="156" width="3" height="14" fill="#ff0000"/>
<rect x="452" y="157" width="1" height="12" fill="#ff4500"/>
<rect x="456" y="154" width="1" height="28" fill="#32cd32"/>
<rect x="455" y="156" width="3" height="25" fill="#32cd32"/>
<rect x="460" y="177" width="1" height="8" fill="#ff0000"/>
<rect x="459" y="179" width="3" height="3" fill="#ff0000"/>
<rect x="460" y="180" width="1" height="1" fill="#ff4500"/>
<rect x="464" y="167" width="1" height="25" fill="#ff0000"/>
<rect x="463" y="174" width="3" height="9" fill="#ff0000"/>
<rect x="464" y="175" width="1" height="7" fill="#ff4500"/>
<rect x="468" y="157" width="1" height="21" fill="#ff0000"/>
<rect x="467" y="174" width="3" height="2" fill="#ff0000"/>
<rect x="472" y="148" width="1" height="32" fill="#ff0000"/>
<rect x="471" y="173" width="3" height="2" fill="#ff0000"/>
<rect x="476" y="166" width="1" height="18" fill="#32cd32"/>
<rect x="475" y="173" width="3" height="5" fill="#32cd32"/>
<rect x="480" y="171" width="1" height="34" fill="#32cd32"/>
<rect x="479" y="176" width="3" height="17" fill="#32cd32"/>
<rect x="484" y="186" width="1" height="7" fill="#ff0000"/>
<rect x="483" y="188" width="3" height="4" fill="#ff0000"/>
<rect x="484" y="189" width="1" height="2" fill="#ff4500"/>
<rect x="488" y="173" width="1" height="22" fill="#ff0000"/>
<rect x="487" y="174" width="3" height="15" fill="#ff0000"/>
<rect x="488" y="175" width="1" height="13" fill="#ff4500"/>
<rect x="492" y="160" width="1" height="21" fill="#ff0000"/>
<rect x="491" y="164" width="3" height="12" fill="#ff0000"/>
<rect x="492" y="165" width="1" height="10" fill="#ff4500"/>
<rect x="496" y="159" width="1" height="28" fill="#32cd32"/>
<rect x="495" y="164" width="3" height="7" fill="#32cd32"/>
<rect x="500" y="166" width="1" height="53" fill="#32cd32"/>
<rect x="499" y="168" width="3" height="50" fill="#32cd32"/>
<rect x="504" y="171" width="1" height="50" fill="#ff0000"/>
<rect x="503" y="173" width="3" height="45" fill="#ff0000"/>
<rect x="504" y="174" width="1" height="43" fill="#ff4500"/>
<rect x="508" y="173" width="1" height="5" fill="#ff0000"/>
<rect x="507" y="174" width="3" height="3" fill="#ff0000"/>
<rect x="508" y="175" width="1" height="1" fill="#ff4500"/>
<rect x="512" y="162" width="1" height="19" fill="#ff0000"/>
<rect x="511" y="163" width="3" height="16" fill="#ff0000"/>
<rect x="512" y="164" width="1" height="14" fill="#ff4500"/>
<rect x="516" y="161" width="1" height="18" fill="#32cd32"/>
<rect x="515" y="163" width="3" height="11" fill="#32cd32"/>
<rect x="520" y="164" width="1" height="19" fill="#32cd32"/>
<rect x="519" y="171" width="3" height="10" fill="#32cd32"/>
<rect x="524" y="164" width="1" height="22" fill="#ff0000"/>
<rect x="523" y="169" width="3" height="12" fill="#ff0000"/>
<rect x="524" y="170" width="1" height="10" fill="#ff4500"/>
<rect x="528" y="157" width="1" height="43" fill="#32cd32"/>
<rect x="527" y="168" width="3" height="28" fill="#32cd32"/>
<rect x="532" y="192" width="1" height="9" fill="#ff0000"/>
<rect x="531" y="193" width="3" height="5" fill="#ff0000"/>
<rect x="532" y="194" width="1" height="3" fill="#ff4500"/>
<rect x="536" y="180" width="1" height="18" fill="#ff0000"/>
<rect x="535" y="185" width="3" height="5" fill="#ff0000"/>
<rect x="536" y="186" width="1" height="3" fill="#ff4500"/>
<rect x="540" y="184" width="1" height="23" fill="#32cd32"/>
<rect x="539" y="185" width="3" height="22" fill="#32cd32"/>
<rect x="544" y="187" width="1" height="20" fill="#ff0000"/>
<rect x="543" y="188" width="3" height="19" fill="#ff0000"/>
<rect x="544" y="189" width="1" height="17" fill="#ff4500"/>
<rect x="548" y="186" width="1" height="79" fill="#32cd32"/>
<rect x="547" y="187" width="3" height="77" fill="#32cd32"/>
<rect x="552" y="259" width="1" height="40" fill="#32cd32"/>
<rect x="551" y="262" width="3" height="29" fill="#32cd32"/>
<rect x="556" y="282" width="1" height="11" fill="#ff0000"/>
<rect x="555" y="286" width="3" height="3" fill="#ff0000"/>
<rect x="556" y="287" width="1" height="1" fill="#ff4500"/>
<rect x="560" y="270" width="1" height="30" fill="#ff0000"/>
<rect x="559" y="275" width="3" height="14" fill="#ff0000"/>
<rect x="560" y="276" width="1" height="12" fill="#ff4500"/>
<rect x="564" y="265" width="1" height="27" fill="#32cd32"/>
<rect x="563" y="273" width="3" height="3" fill="#32cd32"/>
<rect x="568" y="241" width="1" height="36" fill="#ff0000"/>
<rect x="567" y="246" width="3" height="30" fill="#ff0000"/>
<rect x="568" y="247" width="1" height="28" fill="#ff4500"/>
<rect x="572" y="244" width="1" height="15" fill="#32cd32"/>
<rect x="571" y="246" width="3" height="8" fill="#32cd32"/>
<rect x="576" y="233" width="1" height="21" fill="#ff0000"/>
<rect x="575" y="244" width="3" height="10" fill="#ff0000"/>
<rect x="576" y="245" width="1" height="8" fill="#ff4500"/>
<rect x="580" y="242" width="1" height="9" fill="#32cd32"/>
<rect x="579" y="243" width="3" height="6" fill="#32cd32"/>
<rect x="584" y="240" width="1" height="23" fill="#32cd32"/>
<rect x="583" y="246" width="3" height="8" fill="#32cd32"/>
<rect x="588" y="252" width="1" height="34" fill="#32cd32"/>
<rect x="587" y="253" width="3" height="28" fill="#32cd32"/>
<rect x="592" y="275" width="1" height="18" fill="#32cd32"/>
<rect x="591" y="280" width="3" height="12" fill="#32cd32"/>
<rect x="596" y="284" width="1" height="23" fill="#32cd32"/>
<rect x="595" y="290" width="3" height="13" fill="#32cd32"/>
<rect x="600" y="287" width="1" height="28" fill="#ff0000"/>
<rect x="599" y="289" width="3" height="14" fill="#ff0000"/>
<rect x="600" y="290" width="1" height="12" fill="#ff4500"/>
<rect x="604" y="272" width="1" height="21" fill="#ff0000"/>
<rect x="603" y="273" width="3" height="18" fill="#ff0000"/>
<rect x="604" y="274" width="1" height="16" fill="#ff4500"/>
<rect x="608" y="271" width="1" height="14" fill="#ff0000"/>
<rect x="607" y="273" width="3" height="7" fill="#ff0000"/>
<rect x="608" y="274" width="1" height="5" fill="#ff4500"/>
<rect x="612" y="241" width="1" height="55" fill="#32cd32"/>
<rect x="611" y="273" width="3" height="18" fill="#32cd32"/>
<rect x="616" y="273" width="1" height="34" fill="#32cd32"/>
<rect x="615" y="289" width="3" height="8" fill="#32cd32"/>
<rect x="620" y="284" width="1" height="45" fill="#32cd32"/>
<rect x="619" y="295" width="3" height="24" fill="#32cd32"/>
<rect x="624" y="293" width="1" height="39" fill="#ff0000"/>
<rect x="623" y="298" width="3" height="22" fill="#ff0000"/>
<rect x="624" y="299" width="1" height="20" fill="#ff4500"/>
<rect x="628" y="291" width="1" height="9" fill="#ff0000"/>
<rect x="627" y="292" width="3" height="7" fill="#ff0000"/>
<rect x="628" y="293" width="1" height="5" fill="#ff4500"/>
<rect x="632" y="289" width="1" height="25" fill="#ff0000"/>
<rect x="631" y="291" width="3" height="4" fill="#ff0000"/>
<rect x="632" y="292" width="1" height="2" fill="#ff4500"/>
<rect x="636" y="286" width="1" height="38" fill="#32cd32"/>
<rect x="635" y="292" width="3" height="10" fill="#32cd32"/>
<rect x="640" y="293" width="1" height="28" fill="#32cd32"/>
<rect x="639" y="301" width="3" height="4" fill="#32cd32"/>
<rect x="644" y="295" width="1" height="27" fill="#32cd32"/>
<rect x="643" y="303" width="3" height="17" fill="#32cd32"/>
<rect x="648" y="315" width="1" height="22" fill="#32cd32"/>
<rect x="647" y="318" width="3" height="16" fill="#32cd32"/>
<rect x="652" y="327" width="1" height="10" fill="#32cd32"/>
<rect x="651" y="330" width="3" height="5" fill="#32cd32"/>
<rect x="656" y="337" width="1" height="34" fill="#32cd32"/>
<rect x="655" y="338" width="3" height="25" fill="#32cd32"/>
<rect x="660" y="355" width="1" height="29" fill="#32cd32"/>
<rect x="659" y="362" width="3" height="10" fill="#32cd32"/>
<rect x="664" y="354" width="1" height="35" fill="#ff0000"/>
<rect x="663" y="356" width="3" height="16" fill="#ff0000"/>
<rect x="664" y="357" width="1" height="14" fill="#ff4500"/>
<rect x="668" y="336" width="1" height="28" fill="#ff0000"/>
<rect x="667" y="352" width="3" height="6" fill="#ff0000"/>
<rect x="668" y="353" width="1" height="4" fill="#ff4500"/>
<rect x="672" y="340" width="1" height="16" fill="#32cd32"/>
<rect x="671" y="352" width="3" height="2" fill="#32cd32"/>
<rect x="676" y="349" width="1" height="5" fill="#ff0000"/>
<rect x="675" y="351" width="3" height="2" fill="#ff0000"/>
<rect x="680" y="339" width="1" height="30" fill="#ff0000"/>
<rect x="679" y="341" width="3" height="11" fill="#ff0000"/>
<rect x="680" y="342" width="1" height="9" fill="#ff4500"/>
<rect x="684" y="340" width="1" height="25" fill="#32cd32"/>
<rect x="683" y="342" width="3" height="10" fill="#32cd32"/>
<rect x="688" y="346" width="1" height="27" fill="#32cd32"/>
<rect x="687" y="350" width="3" height="13" fill="#32cd32"/>
<rect x="692" y="328" width="1" height="48" fill="#ff0000"/>
<rect x="691" y="334" width="3" height="28" fill="#ff0000"/>
<rect x="692" y="335" width="1" height="26" fill="#ff4500"/>
<rect x="696" y="332" width="1" height="31" fill="#32cd32"/>
<rect x="695" y="334" width="3" height="26" fill="#32cd32"/>
<rect x="700" y="357" width="1" height="12" fill="#32cd32"/>
<rect x="699" y="358" width="3" height="10" fill="#32cd32"/>
<rect x="704" y="342" width="1" height="27" fill="#ff0000"/>
<rect x="703" y="352" width="3" height="11" fill="#ff0000"/>
<rect x="704" y="353" width="1" height="9" fill="#ff4500"/>
<rect x="708" y="331" width="1" height="27" fill="#ff0000"/>
<rect x="707" y="342" width="3" height="13" fill="#ff0000"/>
<rect x="708" y="343" width="1" height="11" fill="#ff4500"/>
<rect x="712" y="322" width="1" height="29" fill="#32cd32"/>
<rect x="711" y="342" width="3" height="5" fill="#32cd32"/>
<rect x="716" y="326" width="1" height="23" fill="#ff0000"/>
<rect x="715" y="331" width="3" height="16" fill="#ff0000"/>
<rect x="716" y="332" width="1" height="14" fill="#ff4500"/>
<rect x="720" y="330" width="1" height="32" fill="#32cd32"/>
<rect x="719" y="331" width="3" height="27" fill="#32cd32"/>
<rect x="724" y="354" width="1" height="6" fill="#32cd32"/>
<rect x="723" y="356" width="3" height="3" fill="#32cd32"/>
<rect x="728" y="353" width="1" height="17" fill="#ff0000"/>
<rect x="727" y="362" width="3" height="2" fill="#ff0000"/>
<rect x="732" y="357" width="1" height="18" fill="#ff0000"/>
<rect x="731" y="361" width="3" height="4" fill="#ff0000"/>
<rect x="732" y="362" width="1" height="2" fill="#ff4500"/>
<rect x="736" y="341" width="1" height="32" fill="#ff0000"/>
<rect x="735" y="347" width="3" height="16" fill="#ff0000"/>
<rect x="736" y="348" width="1" height="14" fill="#ff4500"/>
<rect x="740" y="340" width="1" height="27" fill="#32cd32"/>
<rect x="739" y="348" width="3" height="15" fill="#32cd32"/>
<rect x="744" y="344" width="1" height="25" fill="#ff0000"/>
<rect x="743" y="346" width="3" height="17" fill="#ff0000"/>
<rect x="744" y="347" width="1" height="15" fill="#ff4500"/>
<rect x="748" y="344" width="1" height="7" fill="#32cd32"/>
<rect x="747" y="345" width="3" height="4" fill="#32cd32"/>
<rect x="752" y="347" width="1" height="28" fill="#32cd32"/>
<rect x="751" y="349" width="3" height="16" fill="#32cd32"/>
<rect x="756" y="362" width="1" height="44" fill="#32cd32"/>
<rect x="755" y="364" width="3" height="42" fill="#32cd32"/>
<rect x="760" y="396" width="1" height="20" fill="#32cd32"/>
<rect x="759" y="403" width="3" height="12" fill="#32cd32"/>
<rect x="764" y="400" width="1" height="57" fill="#32cd32"/>
<rect x="763" y="412" width="3" height="34" fill="#32cd32"/>
<rect x="768" y="442" width="1" height="34" fill="#32cd32"/>
<rect x="767" y="443" width="3" height="20" fill="#32cd32"/>
<rect x="772" y="456" width="1" height="8" fill="#ff0000"/>
<rect x="771" y="458" width="3" height="5" fill="#ff0000"/>
<rect x="772" y="459" width="1" height="3" fill="#ff4500"/>
<rect x="776" y="424" width="1" height="37" fill="#ff0000"/>
<rect x="775" y="426" width="3" height="34" fill="#ff0000"/>
<rect x="776" y="427" width="1" height="32" fill="#ff4500"/>
<rect x="780" y="396" width="1" height="35" fill="#ff0000"/>
<rect x="779" y="403" width="3" height="25" fill="#ff0000"/>
<rect x="780" y="404" width="1" height="23" fill="#ff4500"/>
<rect x="784" y="397" width="1" height="16" fill="#ff0000"/>
<rect x="783" y="399" width="3" height="7" fill="#ff0000"/>
<rect x="784" y="400" width="1" height="5" fill="#ff4500"/>
<rect x="788" y="391" width="1" height="21" fill="#32cd32"/>
<rect x="787" y="398" width="3" height="13" fill="#32cd32"/>
<rect x="792" y="376" width="1" height="45" fill="#ff0000"/>
<rect x="791" y="378" width="3" height="30" fill="#ff0000"/>
<rect x="792" y="379" width="1" height="28" fill="#ff4500"/>
<rect x="796" y="374" width="1" height="7" fill="#ff0000"/>
<rect x="795" y="375" width="3" height="4" fill="#ff0000"/>
<rect x="796" y="376" width="1" height="2" fill="#ff4500"/>
<rect x="800" y="373" width="1" height="16" fill="#32cd32"/>
<rect x="799" y="377" width="3" height="10" fill="#32cd32"/>
<rect x="804" y="362" width="1" height="29" fill="#ff0000"/>
<rect x="803" y="379" width="3" height="8" fill="#ff0000"/>
<rect x="804" y="380" width="1" height="6" fill="#ff4500"/>
<rect x="808" y="347" width="1" height="34" fill="#ff0000"/>
<rect x="807" y="350" width="3" height="31" fill="#ff0000"/>
<rect x="808" y="351" width="1" height="29" fill="#ff4500"/>
<rect x="812" y="330" width="1" height="28" fill="#ff0000"/>
<rect x="811" y="334" width="3" height="18" fill="#ff0000"/>
<rect x="812" y="335" width="1" height="16" fill="#ff4500"/>
<rect x="816" y="298" width="1" height="41" fill="#ff0000"/>
<rect x="815" y="315" width="3" height="22" fill="#ff0000"/>
<rect x="816" y="316" width="1" height="20" fill="#ff4500"/>
<rect x="820" y="304" width="1" height="13" fill="#ff0000"/>
<rect x="819" y="307" width="3" height="9" fill="#ff0000"/>
<rect x="820" y="308" width="1" height="7" fill="#ff4500"/>
<rect x="824" y="310" width="1" height="14" fill="#32cd32"/>
<rect x="823" y="311" width="3" height="8" fill="#32cd32"/>
<rect x="828" y="302" width="1" height="47" fill="#32cd32"/>
<rect x="827" y="318" width="3" height="21" fill="#32cd32"/>
<rect x="832" y="334" width="1" height="27" fill="#32cd32"/>
<rect x="831" y="338" width="3" height="14" fill="#32cd32"/>
<rect x="836" y="336" width="1" height="25" fill="#ff0000"/>
<rect x="835" y="344" width="3" height="8" fill="#ff0000"/>
<rect x="836" y="345" width="1" height="6" fill="#ff4500"/>
<rect x="840" y="330" width="1" height="26" fill="#32cd32"/>
<rect x="839" y="343" width="3" height="9" fill="#32cd32"/>
<rect x="844" y="350" width="1" height="5" fill="#32cd32"/>
<rect x="843" y="351" width="3" height="3" fill="#32cd32"/>
<rect x="848" y="347" width="1" height="20" fill="#ff0000"/>
<rect x="847" y="348" width="3" height="4" fill="#ff0000"/>
<rect x="848" y="349" width="1" height="2" fill="#ff4500"/>
<rect x="852" y="347" width="1" height="26" fill="#32cd32"/>
<rect x="851" y="348" width="3" height="20" fill="#32cd32"/>
<rect x="856" y="362" width="1" height="21" fill="#32cd32"/>
<rect x="855" y="365" width="3" height="7" fill="#32cd32"/>
<rect x="860" y="360" width="1" height="36" fill="#32cd32"/>
<rect x="859" y="371" width="3" height="19" fill="#32cd32"/>
<rect x="864" y="372" width="1" height="28" fill="#32cd32"/>
<rect x="863" y="388" width="3" height="7" fill="#32cd32"/>
<rect x="868" y="391" width="1" height="9" fill="#32cd32"/>
<rect x="867" y="393" width="3" height="4" fill="#32cd32"/>
<rect x="872" y="396" width="1" height="26" fill="#32cd32"/>
<rect x="871" y="399" width="3" height="11" fill="#32cd32"/>
<rect x="876" y="390" width="1" height="31" fill="#32cd32"/>
<rect x="875" y="407" width="3" height="4" fill="#32cd32"/>
<rect x="880" y="397" width="1" height="23" fill="#ff0000"/>
<rect x="879" y="400" width="3" height="11" fill="#ff0000"/>
<rect x="880" y="401" width="1" height="9" fill="#ff4500"/>
<rect x="884" y="376" width="1" height="44" fill="#ff0000"/>
<rect x="883" y="384" width="3" height="18" fill="#ff0000"/>
<rect x="884" y="385" width="1" height="16" fill="#ff4500"/>
<rect x="888" y="374" width="1" height="40" fill="#32cd32"/>
<rect x="887" y="384" width="3" height="20" fill="#32cd32"/>
<rect x="892" y="397" width="1" height="9" fill="#32cd32"/>
<rect x="891" y="401" width="3" height="4" fill="#32cd32"/>
<rect x="896" y="387" width="1" height="21" fill="#ff0000"/>
<rect x="895" y="390" width="3" height="12" fill="#ff0000"/>
<rect x="896" y="391" width="1" height="10" fill="#ff4500"/>
<rect x="900" y="377" width="1" height="40" fill="#32cd32"/>
<rect x="899" y="390" width="3" height="24" fill="#32cd32"/>
<rect x="904" y="400" width="1" height="40" fill="#32cd32"/>
<rect x="903" y="412" width="3" height="24" fill="#32cd32"/>
<rect x="908" y="402" width="1" height="43" fill="#ff0000"/>
<rect x="907" y="416" width="3" height="20" fill="#ff0000"/>
<rect x="908" y="417" width="1" height="18" fill="#ff4500"/>
<rect x="912" y="394" width="1" height="41" fill="#ff0000"/>
<rect x="911" y="396" width="3" height="22" fill="#ff0000"/>
<rect x="912" y="397" width="1" height="20" fill="#ff4500"/>
<rect x="916" y="393" width="1" height="7" fill="#32cd32"/>
<rect x="915" y="396" width="3" height="4" fill="#32cd32"/>
<rect x="920" y="380" width="1" height="27" fill="#ff0000"/>
<rect x="919" y="390" width="3" height="5" fill="#ff0000"/>
<rect x="920" y="391" width="1" height="3" fill="#ff4500"/>
<rect x="924" y="385" width="1" height="17" fill="#32cd32"/>
<rect x="923" y="390" width="3" height="10" fill="#32cd32"/>
</g>
<g shape-rendering="crispEdges">
<rect x="3" y="492" width="3" height="42" fill="#c0c0c0"/>
<rect x="7" y="494" width="3" height="40" fill="#c0c0c0"/>
<rect x="11" y="496" width="3" height="38" fill="#c0c0c0"/>
<rect x="15" y="498" width="3" height="36" fill="#c0c0c0"/>
<rect x="19" y="500" width="3" height="34" fill="#c0c0c0"/>
<rect x="23" y="503" width="3" height="31" fill="#c0c0c0"/>
<rect x="27" y="506" width="3" height="28" fill="#c0c0c0"/>
<rect x="31" y="508" width="3" height="26" fill="#c0c0c0"/>
<rect x="35" y="510" width="3" height="24" fill="#c0c0c0"/>
<rect x="39" y="511" width="3" height="23" fill="#c0c0c0"/>
<rect x="43" y="512" width="3" height="22" fill="#c0c0c0"/>
<rect x="47" y="513" width="3" height="21" fill="#c0c0c0"/>
<rect x="51" y="514" width="3" height="20" fill="#c0c0c0"/>
<rect x="55" y="515" width="3" height="19" fill="#c0c0c0"/>
<rect x="59" y="516" width="3" height="18" fill="#c0c0c0"/>
<rect x="63" y="519" width="3" height="15" fill="#c0c0c0"/>
<rect x="67" y="522" width="3" height="12" fill="#c0c0c0"/>
<rect x="71" y="525" width="3" height="9" fill="#c0c0c0"/>
<rect x="75" y="528" width="3" height="6" fill="#c0c0c0"/>
<rect x="79" y="532" width="3" height="2" fill="#c0c0c0"/>
<rect x="83" y="534" width="3" height="4" fill="#c0c0c0"/>
<rect x="87" y="534" width="3" height="5" fill="#c0c0c0"/>
<rect x="91" y="534" width="3" height="7" fill="#c0c0c0"/>
<rect x="95" y="534" width="3" height="7" fill="#c0c0c0"/>
<rect x="99" y="534" width="3" height="4" fill="#c0c0c0"/>
<rect x="103" y="534" width="3" height="2" fill="#c0c0c0"/>
<rect x="107" y="533" width="3" height="1" fill="#c0c0c0"/>
<rect x="111" y="531" width="3" height="3" fill="#c0c0c0"/>
<rect x="115" y="528" width="3" height="6" fill="#c0c0c0"/>
<rect x="119" y="526" width="3" height="8" fill="#c0c0c0"/>
<rect x="123" y="524" width="3" height="10" fill="#c0c0c0"/>
<rect x="127" y="523" width="3" height="11" fill="#c0c0c0"/>
<rect x="131" y="520" width="3" height="14" fill="#c0c0c0"/>
<rect x="135" y="521" width="3" height="13" fill="#c0c0c0"/>
<rect x="139" y="522" width="3" height="12" fill="#c0c0c0"/>
<rect x="143" y="517" width="3" height="17" fill="#c0c0c0"/>
<rect x="147" y="514" width="3" height="20" fill="#c0c0c0"/>
<rect x="151" y="510" width="3" height="24" fill="#c0c0c0"/>
<rect x="155" y="508" width="3" height="26" fill="#c0c0c0"/>
<rect x="159" y="505" width="3" height="29" fill="#c0c0c0"/>
<rect x="163" y="501" width="3" height="33" fill="#c0c0c0"/>
<rect x="167" y="507" width="3" height="27" fill="#c0c0c0"/>
<rect x="171" y="514" width="3" height="20" fill="#c0c0c0"/>
<rect x="175" y="517" width="3" height="17" fill="#c0c0c0"/>
<rect x="179" y="518" width="3" height="16" fill="#c0c0c0"/>
<rect x="183" y="519" width="3" height="15" fill="#c0c0c0"/>
<rect x="187" y="521" width="3" height="13" fill="#c0c0c0"/>
<rect x="191" y="528" width="3" height="6" fill="#c0c0c0"/>
<rect x="195" y="532" width="3" height="2" fill="#c0c0c0"/>
<rect x="199" y="534" width="3" height="4" fill="#c0c0c0"/>
<rect x="203" y="534" width="3" height="6" fill="#c0c0c0"/>
<rect x="207" y="534" width="3" height="8" fill="#c0c0c0"/>
<rect x="211" y="534" width="3" height="6" fill="#c0c0c0"/>
<rect x="215" y="534" width="3" height="5" fill="#c0c0c0"/>
<rect x="219" y="534" width="3" height="4" fill="#c0c0c0"/>
<rect x="223" y="534" width="3" height="4" fill="#c0c0c0"/>
<rect x="227" y="534" width="3" height="3" fill="#c0c0c0"/>
<rect x="231" y="534" width="3" height="3" fill="#c0c0c0"/>
<rect x="235" y="534" width="3" height="3" fill="#c0c0c0"/>
<rect x="239" y="534" width="3" height="2" fill="#c0c0c0"/>
<rect x="243" y="534" width="3" height="2" fill="#c0c0c0"/>
<rect x="247" y="534" width="3" height="2" fill="#c0c0c0"/>
<rect x="251" y="534" width="3" height="4" fill="#c0c0c0"/>
<rect x="255" y="534" width="3" height="10" fill="#c0c0c0"/>
<rect x="259" y="534" width="3" height="15" fill="#c0c0c0"/>
<rect x="263" y="534" width="3" height="17" fill="#c0c0c0"/>
<rect x="267" y="534" width="3" height="18" fill="#c0c0c0"/>
<rect x="271" y="534" width="3" height="19" fill="#c0c0c0"/>
<rect x="275" y="534" width="3" height="20" fill="#c0c0c0"/>
<rect x="279" y="534" width="3" height="21" fill="#c0c0c0"/>
<rect x="283" y="534" width="3" height="22" fill="#c0c0c0"/>
<rect x="287" y="534" width="3" height="22" fill="#c0c0c0"/>
<rect x="291" y="534" width="3" height="22" fill="#c0c0c0"/>
<rect x="295" y="534" width="3" height="18" fill="#c0c0c0"/>
<rect x="299" y="534" width="3" height="17" fill="#c0c0c0"/>
<rect x="303" y="534" width="3" height="17" fill="#c0c0c0"/>
<rect x="307" y="534" width="3" height="16" fill="#c0c0c0"/>
<rect x="311" y="534" width="3" height="15" fill="#c0c0c0"/>
<rect x="315" y="534" width="3" height="15" fill="#c0c0c0"/>
<rect x="319" y="534" width="3" height="15" fill="#c0c0c0"/>
<rect x="323" y="534" width="3" height="14" fill="#c0c0c0"/>
<rect x="327" y="534" width="3" height="9" fill="#c0c0c0"/>
<rect x="331" y="534" width="3" height="4" fill="#c0c0c0"/>
<rect x="335" y="533" width="3" height="1" fill="#c0c0c0"/>
<rect x="339" y="532" width="3" height="2" fill="#c0c0c0"/>
<rect x="343" y="528" width="3" height="6" fill="#c0c0c0"/>
<rect x="347" y="526" width="3" height="8" fill="#c0c0c0"/>
<rect x="351" y="525" width="3" height="9" fill="#c0c0c0"/>
<rect x="355" y="525" width="3" height="9" fill="#c0c0c0"/>
<rect x="359" y="524" width="3" height="10" fill="#c0c0c0"/>
<rect x="363" y="523" width="3" height="11" fill="#c0c0c0"/>
<rect x="367" y="521" width="3" height="13" fill="#c0c0c0"/>
<rect x="371" y="520" width="3" height="14" fill="#c0c0c0"/>
<rect x="375" y="520" width="3" height="14" fill="#c0c0c0"/>
<rect x="379" y="521" width="3" height="13" fill="#c0c0c0"/>
<rect x="383" y="523" width="3" height="11" fill="#c0c0c0"/>
<rect x="387" y="525" width="3" height="9" fill="#c0c0c0"/>
<rect x="391" y="525" width="3" height="9" fill="#c0c0c0"/>
<rect x="395" y="528" width="3" height="6" fill="#c0c0c0"/>
<rect x="399" y="528" width="3" height="6" fill="#c0c0c0"/>
<rect x="403" y="527" width="3" height="7" fill="#c0c0c0"/>
<rect x="407" y="523" width="3" height="11" fill="#c0c0c0"/>
<rect x="411" y="519" width="3" height="15" fill="#c0c0c0"/>
<rect x="415" y="516" width="3" height="18" fill="#c0c0c0"/>
<rect x="419" y="515" width="3" height="19" fill="#c0c0c0"/>
<rect x="423" y="519" width="3" height="15" fill="#c0c0c0"/>
<rect x="427" y="522" width="3" height="12" fill="#c0c0c0"/>
<rect x="431" y="524" width="3" height="10" fill="#c0c0c0"/>
<rect x="435" y="524" width="3" height="10" fill="#c0c0c0"/>
<rect x="439" y="525" width="3" height="9" fill="#c0c0c0"/>
<rect x="443" y="526" width="3" height="8" fill="#c0c0c0"/>
<rect x="447" y="527" width="3" height="7" fill="#c0c0c0"/>
<rect x="451" y="528" width="3" height="6" fill="#c0c0c0"/>
<rect x="455" y="530" width="3" height="4" fill="#c0c0c0"/>
<rect x="459" y="532" width="3" height="2" fill="#c0c0c0"/>
<rect x="463" y="533" width="3" height="1" fill="#c0c0c0"/>
<rect x="467" y="534" width="3" height="1" fill="#c0c0c0"/>
<rect x="471" y="534" width="3" height="2" fill="#c0c0c0"/>
<rect x="475" y="534" width="3" height="3" fill="#c0c0c0"/>
<rect x="479" y="534" width="3" height="5" fill="#c0c0c0"/>
<rect x="483" y="534" width="3" height="6" fill="#c0c0c0"/>
<rect x="487" y="534" width="3" height="5" fill="#c0c0c0"/>
<rect x="491" y="534" width="3" height="4" fill="#c0c0c0"/>
<rect x="495" y="534" width="3" height="4" fill="#c0c0c0"/>
<rect x="499" y="534" width="3" height="8" fill="#c0c0c0"/>
<rect x="503" y="534" width="3" height="6" fill="#c0c0c0"/>
<rect x="507" y="534" width="3" height="4" fill="#c0c0c0"/>
<rect x="511" y="534" width="3" height="3" fill="#c0c0c0"/>
<rect x="515" y="534" width="3" height="2" fill="#c0c0c0"/>
<rect x="519" y="534" width="3" height="2" fill="#c0c0c0"/>
<rect x="523" y="534" width="3" height="2" fill="#c0c0c0"/>
<rect x="527" y="534" width="3" height="4" fill="#c0c0c0"/>
<rect x="531" y="534" width="3" height="5" fill="#c0c0c0"/>
<rect x="535" y="534" width="3" height="5" fill="#c0c0c0"/>
<rect x="539" y="534" width="3" height="7" fill="#c0c0c0"/>
<rect x="543" y="534" width="3" height="8" fill="#c0c0c0"/>
<rect x="547" y="534" width="3" height="14" fill="#c0c0c0"/>
<rect x="551" y="534" width="3" height="20" fill="#c0c0c0"/>
<rect x="555" y="534" width="3" height="27" fill="#c0c0c0"/>
<rect x="559" y="534" width="3" height="29" fill="#c0c0c0"/>
<rect x="563" y="534" width="3" height="31" fill="#c0c0c0"/>
<rect x="567" y="534" width="3" height="29" fill="#c0c0c0"/>
<rect x="571" y="534" width="3" height="29" fill="#c0c0c0"/>
<rect x="575" y="534" width="3" height="27" fill="#c0c0c0"/>
<rect x="579" y="534" width="3" height="26" fill="#c0c0c0"/>
<rect x="583" y="534" width="3" height="26" fill="#c0c0c0"/>
<rect x="587" y="534" width="3" height="27" fill="#c0c0c0"/>
<rect x="591" y="534" width="3" height="28" fill="#c0c0c0"/>
<rect x="595" y="534" width="3" height="29" fill="#c0c0c0"/>
<rect x="599" y="534" width="3" height="31" fill="#c0c0c0"/>
<rect x="603" y="534" width="3" height="29" fill="#c0c0c0"/>
<rect x="607" y="534" width="3" height="28" fill="#c0c0c0"/>
<rect x="611" y="534" width="3" height="28" fill="#c0c0c0"/>
<rect x="615" y="534" width="3" height="27" fill="#c0c0c0"/>
<rect x="619" y="534" width="3" height="27" fill="#c0c0c0"/>
<rect x="623" y="534" width="3" height="29" fill="#c0c0c0"/>
<rect x="627" y="534" width="3" height="28" fill="#c0c0c0"/>
<rect x="631" y="534" width="3" height="27" fill="#c0c0c0"/>
<rect x="635" y="534" width="3" height="27" fill="#c0c0c0"/>
<rect x="639" y="534" width="3" height="27" fill="#c0c0c0"/>
<rect x="643" y="534" width="3" height="27" fill="#c0c0c0"/>
<rect x="647" y="534" width="3" height="27" fill="#c0c0c0"/>
<rect x="651" y="534" width="3" height="28" fill="#c0c0c0"/>
<rect x="655" y="534" width="3" height="31" fill="#c0c0c0"/>
<rect x="659" y="534" width="3" height="33" fill="#c0c0c0"/>
<rect x="663" y="534" width="3" height="35" fill="#c0c0c0"/>
<rect x="667" y="534" width="3" height="34" fill="#c0c0c0"/>
<rect x="671" y="534" width="3" height="33" fill="#c0c0c0"/>
<rect x="675" y="534" width="3" height="33" fill="#c0c0c0"/>
<rect x="679" y="534" width="3" height="31" fill="#c0c0c0"/>
<rect x="683" y="534" width="3" height="29" fill="#c0c0c0"/>
<rect x="687" y="534" width="3" height="29" fill="#c0c0c0"/>
<rect x="691" y="534" width="3" height="27" fill="#c0c0c0"/>
<rect x="695" y="534" width="3" height="27" fill="#c0c0c0"/>
<rect x="699" y="534" width="3" height="26" fill="#c0c0c0"/>
<rect x="703" y="534" width="3" height="25" fill="#c0c0c0"/>
<rect x="707" y="534" width="3" height="23" fill="#c0c0c0"/>
<rect x="711" y="534" width="3" height="21" fill="#c0c0c0"/>
<rect x="715" y="534" width="3" height="19" fill="#c0c0c0"/>
<rect x="719" y="534" width="3" height="18" fill="#c0c0c0"/>
<rect x="723" y="534" width="3" height="18" fill="#c0c0c0"/>
<rect x="727" y="534" width="3" height="18" fill="#c0c0c0"/>
<rect x="731" y="534" width="3" height="19" fill="#c0c0c0"/>
<rect x="735" y="534" width="3" height="17" fill="#c0c0c0"/>
<rect x="739" y="534" width="3" height="15" fill="#c0c0c0"/>
<rect x="743" y="534" width="3" height="14" fill="#c0c0c0"/>
<rect x="747" y="534" width="3" height="12" fill="#c0c0c0"/>
<rect x="751" y="534" width="3" height="12" fill="#c0c0c0"/>
<rect x="755" y="534" width="3" height="15" fill="#c0c0c0"/>
<rect x="759" y="534" width="3" height="21" fill="#c0c0c0"/>
<rect x="763" y="534" width="3" height="26" fill="#c0c0c0"/>
<rect x="767" y="534" width="3" height="31" fill="#c0c0c0"/>
<rect x="771" y="534" width="3" height="35" fill="#c0c0c0"/>
<rect x="775" y="534" width="3" height="33" fill="#c0c0c0"/>
<rect x="779" y="534" width="3" height="31" fill="#c0c0c0"/>
<rect x="783" y="534" width="3" height="29" fill="#c0c0c0"/>
<rect x="787" y="534" width="3" height="25" fill="#c0c0c0"/>
<rect x="791" y="534" width="3" height="21" fill="#c0c0c0"/>
<rect x="795" y="534" width="3" height="19" fill="#c0c0c0"/>
<rect x="799" y="534" width="3" height="16" fill="#c0c0c0"/>
<rect x="803" y="534" width="3" height="14" fill="#c0c0c0"/>
<rect x="807" y="534" width="3" height="9" fill="#c0c0c0"/>
<rect x="811" y="534" width="3" height="4" fill="#c0c0c0"/>
<rect x="815" y="532" width="3" height="2" fill="#c0c0c0"/>
<rect x="819" y="526" width="3" height="8" fill="#c0c0c0"/>
<rect x="823" y="523" width="3" height="11" fill="#c0c0c0"/>
<rect x="827" y="522" width="3" height="12" fill="#c0c0c0"/>
<rect x="831" y="523" width="3" height="11" fill="#c0c0c0"/>
<rect x="835" y="523" width="3" height="11" fill="#c0c0c0"/>
<rect x="839" y="524" width="3" height="10" fill="#c0c0c0"/>
<rect x="843" y="525" width="3" height="9" fill="#c0c0c0"/>
<rect x="847" y="526" width="3" height="8" fill="#c0c0c0"/>
<rect x="851" y="528" width="3" height="6" fill="#c0c0c0"/>
<rect x="855" y="531" width="3" height="3" fill="#c0c0c0"/>
<rect x="859" y="533" width="3" height="1" fill="#c0c0c0"/>
<rect x="863" y="534" width="3" height="3" fill="#c0c0c0"/>
<rect x="867" y="534" width="3" height="6" fill="#c0c0c0"/>
<rect x="871" y="534" width="3" height="9" fill="#c0c0c0"/>
<rect x="875" y="534" width="3" height="12" fill="#c0c0c0"/>
<rect x="879" y="534" width="3" height="12" fill="#c0c0c0"/>
<rect x="883" y="534" width="3" height="12" fill="#c0c0c0"/>
<rect x="887" y="534" width="3" height="12" fill="#c0c0c0"/>
<rect x="891" y="534" width="3" height="14" fill="#c0c0c0"/>
<rect x="895" y="534" width="3" height="14" fill="#c0c0c0"/>
<rect x="899" y="534" width="3" height="14" fill="#c0c0c0"/>
<rect x="903" y="534" width="3" height="16" fill="#c0c0c0"/>
<rect x="907" y="534" width="3" height="16" fill="#c0c0c0"/>
<rect x="911" y="534" width="3" height="14" fill="#c0c0c0"/>
<rect x="915" y="534" width="3" height="13" fill="#c0c0c0"/>
<rect x="919" y="534" width="3" height="12" fill="#c0c0c0"/>
<rect x="923" y="534" width="3" height="12" fill="#c0c0c0"/>
</g>
<g shape-rendering="crispEdges">
<path d="M5 496.5h20M25 497.5h4M29 498.5h3M32 499.5h2M34 500.5h2M36 501.5h1M37 502.5h2M39 503.5h3M42 504.5h2M44 505.5h3M47 506.5h2M49 507.5h3M52 508.5h2M54 509.5h2M56 510.5h2M58 511.5h2M60 512.5h2M62 513.5h3M65 514.5h3M68 515.5h3M71 516.5h3M74 517.5h2M76 518.5h1M77 519.5h2M79 520.5h1M80 521.5h2M82 522.5h1M83 523.5h2M85 524.5h1M86 525.5h2M88 526.5h2M90 527.5h1M91 528.5h2M93 529.5h1M94 530.5h2M96 531.5h2M98 532.5h2M100 533.5h3M103 534.5h2M105 535.5h2M107 536.5h11M118 535.5h3M121 534.5h3M124 533.5h3M127 532.5h2M129 531.5h2M131 530.5h2M133 529.5h2M135 528.5h2M137 527.5h2M139 526.5h3M142 525.5h2M144 524.5h2M146 523.5h3M149 522.5h2M151 521.5h1M152 520.5h2M154 519.5h2M156 518.5h2M158 517.5h1M159 516.5h2M161 515.5h2M163 514.5h2M165 513.5h2M167 512.5h3M170 511.5h6M176 510.5h5M181 511.5h6M187 512.5h2M189 513.5h3M192 514.5h1M193 515.5h1M194 516.5h1M195 517.5h1M196 518.5h1M197 519.5h1M198 520.5h1M199 521.5h1M200 522.5h1M201 523.5h1M202 524.5h2M204 525.5h1M205 526.5h2M207 527.5h1M208 528.5h1M209 529.5h2M211 530.5h2M213 531.5h2M215 532.5h2M217 533.5h2M219 534.5h2M221 535.5h2M223 536.5h3M226 537.5h3M229 538.5h13M242 537.5h16M258 538.5h3M261 539.5h2M263 540.5h3M266 541.5h3M269 542.5h2M271 543.5h2M273 544.5h2M275 545.5h3M278 546.5h2M280 547.5h2M282 548.5h2M284 549.5h2M286 550.5h2M288 551.5h2M290 552.5h19M309 551.5h8M317 550.5h7M324 549.5h2M326 548.5h3M329 547.5h2M331 546.5h3M334 545.5h2M336 544.5h2M338 543.5h2M340 542.5h2M342 541.5h1M343 540.5h2M345 539.5h2M347 538.5h1M348 537.5h2M350 536.5h1M351 535.5h2M353 534.5h1M354 533.5h2M356 532.5h1M357 531.5h2M359 530.5h2M361 529.5h2M363 528.5h2M365 527.5h2M367 526.5h3M370 525.5h3M373 524.5h3M376 523.5h23M399 524.5h21M420 523.5h4M424 522.5h26M450 523.5h3M453 524.5h3M456 525.5h3M459 526.5h2M461 527.5h2M463 528.5h3M466 529.5h4M470 530.5h4M474 531.5h4M478 532.5h4M482 533.5h4M486 534.5h5M491 535.5h4M495 536.5h5M500 537.5h45M545 538.5h2M547 539.5h2M549 540.5h2M551 541.5h2M553 542.5h1M554 543.5h2M556 544.5h2M558 545.5h1M559 546.5h1M560 547.5h1M561 548.5h1M562 549.5h2M564 550.5h1M565 551.5h2M567 552.5h2M569 553.5h2M571 554.5h2M573 555.5h2M575 556.5h2M577 557.5h2M579 558.5h3M582 559.5h4M586 560.5h39M625 561.5h5M630 560.5h8M638 559.5h15M653 560.5h8M661 561.5h4M665 562.5h4M669 563.5h6M675 564.5h21M696 563.5h3M699 562.5h4M703 561.5h3M706 560.5h3M709 559.5h3M712 558.5h3M715 557.5h3M718 556.5h2M720 555.5h5M725 554.5h6M731 553.5h2M733 552.5h3M736 551.5h3M739 550.5h4M743 549.5h8M751 548.5h6M757 549.5h7M764 550.5h2M766 551.5h2M768 552.5h2M770 553.5h2M772 554.5h2M774 555.5h2M776 556.5h3M779 557.5h2M781 558.5h2M783 559.5h4M787 560.5h5M792 561.5h4M796 560.5h5M801 559.5h2M803 558.5h2M805 557.5h1M806 556.5h2M808 555.5h2M810 554.5h1M811 553.5h1M812 552.5h1M813 551.5h1M814 550.5h1M815 549.5h1M816 548.5h2M818 547.5h1M819 546.5h1M820 545.5h1M821 544.5h1M822 543.5h1M823 542.5h1M824 541.5h1M825 540.5h1M826 539.5h1M827 538.5h1M828 537.5h1M829 536.5h1M830 535.5h1M831 534.5h1M832 533.5h1M833 532.5h1M834 531.5h2M836 530.5h2M838 529.5h1M839 528.5h2M841 527.5h2M843 526.5h4M847 525.5h5M852 524.5h2M854 525.5h5M859 526.5h4M863 527.5h2M865 528.5h3M868 529.5h2M870 530.5h2M872 531.5h2M874 532.5h1M875 533.5h2M877 534.5h1M878 535.5h2M880 536.5h2M882 537.5h2M884 538.5h2M886 539.5h1M887 540.5h3M890 541.5h3M893 542.5h3M896 543.5h3M899 544.5h4M903 545.5h3M906 546.5h19" fill="none" stroke="#ff0000" stroke-width="1"/>
</g>
<g shape-rendering="crispEdges">
<rect x="4" y="600" width="1162" height="1" fill="none"/>
<line x1="4" y1="600.5" x2="1166" y2="600.5" stroke="#c0c0c0" stroke-width="1" stroke-dasharray="3,3"/>
<line x1="4" y1="634.5" x2="1166" y2="634.5" stroke="#c0c0c0" stroke-width="1" stroke-dasharray="3,3"/>
<path d="M4 603.5h1M5 604.5h1M6.5 605v2M7.5 607v2M8.5 609v2M9 610.5h1M10 609.5h2M12 608.5h1M13 607.5h2M15 606.5h3M18 605.5h3M21 606.5h1M22.5 607v2M23.5 609v2M24.5 611v2M25 612.5h3M28 611.5h1M29 612.5h1M30 613.5h2M32 614.5h2M34 613.5h2M36 612.5h1M37 611.5h2M39 610.5h1M40 609.5h2M42 608.5h2M44 607.5h1M45 608.5h1M46.5 609v2M47 611.5h1M48 612.5h1M49 613.5h4M53 614.5h4M57 613.5h2M59 612.5h1M60 611.5h2M62.5 612v2M63.5 614v2M64.5 616v2M65 618.5h2M67 619.5h2M69 620.5h1M70 619.5h2M72 618.5h1M73 619.5h1M74 620.5h1M75 621.5h2M77 622.5h1M78 623.5h1M79 624.5h2M81 625.5h1M82 626.5h1M83 627.5h3M86 626.5h2M88 625.5h1M89 624.5h1M90 623.5h2M92 624.5h2M94.5 622v2M95 621.5h1M96.5 619v2M97 618.5h1M98 617.5h3M101 616.5h1M102 615.5h1M103 614.5h1M104 613.5h1M105 612.5h2M107 611.5h5M112 610.5h1M113 609.5h2M115 608.5h2M117 607.5h1M118 608.5h3M121 609.5h2M123 608.5h3M126 607.5h2M128 606.5h2M130 607.5h2M132 608.5h2M134.5 609v2M135 611.5h1M136.5 612v2M137 613.5h2M139 612.5h2M141.5 610v2M142.5 608v2M143.5 606v2M144.5 604v2M145.5 602v2M146 602.5h1M147 601.5h2M149 600.5h2M151 599.5h6M157 598.5h2M159 597.5h3M162 596.5h2M164.5 596v3M165.5 599v6M166.5 605v6M167.5 611v6M168.5 617v3M169 620.5h2M171 621.5h1M172 622.5h2M174.5 620v2M175 619.5h1M176 618.5h1M177 617.5h1M178 616.5h1M179 615.5h1M180 614.5h5M185 615.5h4M189.5 616v2M190.5 618v3M191.5 621v2M192.5 623v2M193 625.5h1M194 624.5h2M196 623.5h2M198 624.5h3M201 623.5h2M203 622.5h2M205 621.5h3M208 620.5h2M210 619.5h2M212 618.5h1M213 617.5h5M218 618.5h1M219 617.5h4M223 618.5h1M224 619.5h1M225 620.5h1M226 619.5h1M227 618.5h3M230 619.5h1M231 620.5h1M232 621.5h1M233.5 619v2M234.5 617v2M235.5 615v2M236.5 613v2M237 614.5h1M238 615.5h1M239 616.5h1M240 617.5h7M247 618.5h2M249 619.5h1M250 620.5h1M251 621.5h1M252 622.5h1M253 623.5h1M254 624.5h1M255 625.5h1M256 626.5h1M257 627.5h1M258 628.5h1M259 629.5h1M260 630.5h2M262.5 628v2M263 627.5h1M264.5 625v2M265 625.5h3M268 626.5h1M269 625.5h1M270 624.5h2M272 623.5h1M273 624.5h2M275 625.5h3M278 626.5h8M286 625.5h8M294 624.5h1M295.5 622v2M296 621.5h1M297.5 619v2M298 619.5h4M302 620.5h1M303 621.5h1M304 622.5h2M306 621.5h2M308 620.5h2M310 621.5h3M313 622.5h11M324 621.5h1M325.5 619v2M326.5 616v3M327.5 613v3M328.5 611v2M329 610.5h1M330 609.5h1M331 608.5h2M333 609.5h2M335 610.5h7M342 609.5h1M343 608.5h1M344 607.5h1M345 608.5h1M346 609.5h2M348 610.5h3M351 609.5h1M352 608.5h1M353.5 609v2M354 611.5h1M355 612.5h1M356 613.5h3M359 612.5h2M361 611.5h2M363 610.5h1M364 609.5h2M366 608.5h1M367 607.5h1M368 606.5h1M369 605.5h1M370 606.5h1M371 607.5h1M372 608.5h1M373 609.5h2M375 610.5h3M378 611.5h3M381.5 612v2M382 614.5h1M383.5 615v2M384.5 617v2M385 619.5h3M388 620.5h1M389.5 618v2M390 617.5h1M391.5 615v2M392.5 613v2M393 614.5h1M394.5 615v3M395.5 618v2M396.5 620v2M397 620.5h1M398 619.5h1M399.5 617v2M400 616.5h1M401.5 614v2M402 613.5h2M404 612.5h2M406.5 610v2M407.5 608v2M408.5 606v2M409 605.5h1M410 606.5h2M412 607.5h2M414 606.5h2M416 605.5h1M417 606.5h2M419 607.5h1M420 608.5h1M421.5 609v3M422.5 612v2M423.5 614v3M424.5 617v2M425 619.5h1M426 620.5h3M429 619.5h1M430 618.5h1M431 617.5h1M432.5 615v2M433 615.5h2M435 614.5h3M438 615.5h3M441 616.5h2M443 615.5h2M445 616.5h1M446 617.5h1M447 618.5h3M450 617.5h1M451 616.5h1M452 615.5h1M453 616.5h1M454 617.5h1M455.5 618v2M456 620.5h12M468 619.5h5M473 618.5h1M474 619.5h1M475 620.5h2M477 621.5h1M478 622.5h2M480 623.5h1M481 624.5h1M482 623.5h1M483 622.5h2M485 621.5h1M486 620.5h1M487 619.5h1M488 618.5h1M489 617.5h1M490 616.5h2M492 615.5h3M495 616.5h1M496 617.5h1M497.5 618v2M498.5 620v3M499.5 623v3M500.5 626v2M501.5 625v2M502.5 623v2M503.5 620v3M504.5 618v2M505 618.5h1M506 617.5h4M510 616.5h2M512 615.5h2M514 616.5h2M516 617.5h2M518 618.5h4M522 617.5h3M525 618.5h1M526.5 619v2M527 621.5h1M528 622.5h4M532 621.5h2M534 620.5h2M536 619.5h1M537 620.5h1M538 621.5h1M539 622.5h1M540 623.5h1M541 622.5h1M542 621.5h1M543 620.5h1M544.5 619v2M545.5 621v2M546.5 623v3M547.5 626v3M548.5 629v2M549.5 631v2M550 633.5h2M552 634.5h6M558 633.5h1M559 632.5h2M561 631.5h4M565 630.5h1M566 629.5h1M567.5 627v2M568.5 625v2M569 624.5h1M570 625.5h4M574 624.5h2M576 623.5h1M577 622.5h1M578 623.5h5M583 624.5h2M585 625.5h1M586 626.5h1M587 627.5h1M588 628.5h1M589 629.5h2M591 630.5h3M594 631.5h1M595 632.5h3M598 631.5h1M599 630.5h1M600 629.5h1M601 628.5h1M602 627.5h1M603 626.5h1M604 625.5h1M605 624.5h4M609 625.5h2M611 626.5h2M613 627.5h2M615 628.5h2M617 629.5h1M618 630.5h1M619 631.5h1M620 632.5h1M621 631.5h1M622.5 629v2M623 628.5h1M624 627.5h2M626 626.5h12M638 627.5h3M641 628.5h1M642 629.5h2M644 630.5h1M645 631.5h2M647 632.5h3M650 633.5h3M653 634.5h1M654 635.5h1M655 636.5h1M656 637.5h2M658 638.5h3M661 637.5h1M662 636.5h1M663 635.5h1M664.5 633v2M665 632.5h2M667 631.5h10M677 630.5h2M679 629.5h1M680 628.5h1M681 627.5h1M682 628.5h2M684 629.5h2M686 630.5h2M688 631.5h1M689.5 629v2M690.5 627v2M691.5 625v2M692.5 623v2M693 623.5h1M694.5 624v2M695 626.5h1M696 627.5h2M698 628.5h2M700 629.5h1M701 628.5h1M702 627.5h1M703 626.5h1M704.5 624v2M705 623.5h2M707 622.5h2M709 621.5h2M711 622.5h3M714 621.5h1M715 620.5h1M716 619.5h2M718 620.5h1M719 621.5h1M720.5 622v2M721 624.5h6M727 625.5h2M729 626.5h3M732 625.5h2M734.5 623v2M735 622.5h1M736 621.5h2M738 622.5h1M739 623.5h1M740 624.5h2M742 623.5h1M743 622.5h1M744 621.5h1M745 620.5h5M750 621.5h1M751.5 622v2M752 624.5h1M753.5 625v2M754.5 627v2M755 629.5h1M756.5 630v2M757.5 632v2M758 633.5h3M761 634.5h1M762 635.5h1M763 636.5h2M765 637.5h1M766 638.5h2M768 639.5h4M772 638.5h1M773.5 636v2M774.5 634v2M775.5 631v3M776.5 629v2M777 628.5h1M778.5 626v2M779 625.5h1M780 624.5h1M781 623.5h1M782 622.5h2M784 621.5h2M786 622.5h2M788 623.5h1M789 622.5h1M790 621.5h1M791.5 619v2M792.5 617v2M793 617.5h1M794 616.5h3M797 617.5h2M799 618.5h3M802 617.5h2M804 616.5h1M805 615.5h1M806 614.5h1M807 613.5h1M808 612.5h1M809.5 610v2M810 610.5h1M811 609.5h2M813 608.5h2M815 607.5h1M816 606.5h2M818 605.5h1M819 604.5h3M822 605.5h1M823 606.5h1M824 607.5h1M825 608.5h1M826 609.5h1M827.5 610v2M828 612.5h1M829 613.5h1M830 614.5h2M832 615.5h2M834 614.5h2M836 613.5h2M838 614.5h2M840 615.5h8M848 616.5h2M850 617.5h1M851 618.5h1M852 619.5h2M854 620.5h3M857 621.5h1M858 622.5h1M859 623.5h1M860 624.5h1M861 625.5h2M863 626.5h7M870 627.5h2M872 628.5h1M873 629.5h5M878 628.5h1M879 627.5h1M880 626.5h1M881.5 624v2M882 623.5h1M883 622.5h1M884 621.5h1M885 622.5h1M886 623.5h1M887 624.5h1M888 625.5h5M893 624.5h1M894 623.5h1M895 622.5h1M896 621.5h1M897 622.5h1M898 623.5h1M899.5 624v2M900 626.5h1M901 627.5h1M902 628.5h1M903 629.5h3M906 628.5h1M907.5 626v2M908 625.5h1M909 624.5h1M910 623.5h1M911.5 621v2M912 620.5h3M915 619.5h3M918 618.5h2M920 617.5h1M921 618.5h4" fill="none" stroke="#1e90ff" stroke-width="1"/>
</g>
<g shape-rendering="crispEdges" fill="#000">
<rect x="3" y="25" width="1164" height="1" fill="#000"/>
<rect x="3" y="25" width="1" height="636" fill="#000"/>
<rect x="1166" y="25" width="1" height="636" fill="#000"/>
<rect x="3" y="485" width="1164" height="1" fill="#000"/>
<rect x="3" y="487" width="1164" height="1" fill="#000"/>
<rect x="3" y="571" width="1164" height="1" fill="#000"/>
<rect x="3" y="573" width="1164" height="1" fill="#000"/>
<rect x="3" y="660" width="1164" height="1" fill="#000"/>
<rect x="4" y="486" width="1163" height="1" fill="#fff"/>
<rect x="4" y="572" width="1163" height="1" fill="#fff"/>
<rect x="1166" y="182" width="1" height="2" fill="#ff0000"/>
<rect x="1166" y="252" width="1" height="2" fill="#ff0000"/>
<rect x="1166" y="333" width="1" height="2" fill="#00ff00"/>
<rect x="1166" y="408" width="1" height="2" fill="#0000ff"/>
<rect x="1166" y="479" width="1" height="2" fill="#0000ff"/>
<rect x="1166" y="483" width="1" height="2" fill="#ff0000"/>
<rect x="1167" y="53" width="2" height="1" fill="#000"/>
<rect x="1167" y="86" width="2" height="1" fill="#000"/>
<rect x="1167" y="119" width="2" height="1" fill="#000"/>
<rect x="1167" y="152" width="2" height="1" fill="#000"/>
<rect x="1167" y="185" width="2" height="1" fill="#000"/>
<rect x="1167" y="218" width="2" height="1" fill="#000"/>
<rect x="1167" y="251" width="2" height="1" fill="#000"/>
<rect x="1167" y="284" width="2" height="1" fill="#000"/>
<rect x="1167" y="317" width="2" height="1" fill="#000"/>
<rect x="1167" y="350" width="2" height="1" fill="#000"/>
<rect x="1167" y="383" width="2" height="1" fill="#000"/>
<rect x="1167" y="416" width="2" height="1" fill="#000"/>
<rect x="1167" y="449" width="2" height="1" fill="#000"/>
<rect x="1167" y="482" width="2" height="1" fill="#000"/>
<rect x="1167" y="482" width="2" height="1" fill="#000"/>
<rect x="1167" y="489" width="2" height="1" fill="#000"/>
<rect x="1167" y="534" width="2" height="1" fill="#000"/>
<rect x="1167" y="570" width="2" height="1" fill="#000"/>
<rect x="1167" y="575" width="2" height="1" fill="#000"/>
<rect x="1167" y="659" width="2" height="1" fill="#000"/>
<rect x="4" y="661" width="1" height="3" fill="#000"/>
<rect x="68" y="661" width="1" height="3" fill="#000"/>
<rect x="132" y="661" width="1" height="3" fill="#000"/>
<rect x="196" y="661" width="1" height="3" fill="#000"/>
<rect x="260" y="661" width="1" height="3" fill="#000"/>
<rect x="324" y="661" width="1" height="3" fill="#000"/>
<rect x="388" y="661" width="1" height="3" fill="#000"/>
<rect x="452" y="661" width="1" height="3" fill="#000"/>
<rect x="516" y="661" width="1" height="3" fill="#000"/>
<rect x="580" y="661" width="1" height="3" fill="#000"/>
<rect x="644" y="661" width="1" height="3" fill="#000"/>
<rect x="708" y="661" width="1" height="3" fill="#000"/>
<rect x="772" y="661" width="1" height="3" fill="#000"/>
<rect x="836" y="661" width="1" height="3" fill="#000"/>
<rect x="900" y="661" width="1" height="3" fill="#000"/>
</g>
</svg>
<!-- one click trading panel -->
<div class="abs" style="left:4px;top:26px;width:225px;height:78px;background:#fff"></div>
<svg width="1206" height="705" viewBox="0 0 1206 705">
<defs>
<linearGradient id="gt" x1="0" y1="0" x2="0" y2="1"><stop offset="0" stop-color="#f95050"/><stop offset="1" stop-color="#dc2a2a"/></linearGradient>
<linearGradient id="gp" gradientUnits="userSpaceOnUse" x1="0" y1="46" x2="0" y2="101"><stop offset="0" stop-color="#fb5252"/><stop offset="0.42" stop-color="#de2c2c"/><stop offset="0.75" stop-color="#c81616"/><stop offset="1" stop-color="#b20202"/></linearGradient>
<linearGradient id="gb" x1="0" y1="0" x2="0" y2="1"><stop offset="0" stop-color="#f2f2f2"/><stop offset="0.39" stop-color="#e6e6e6"/><stop offset="0.39" stop-color="#d8d8d8"/><stop offset="1" stop-color="#d0d0d0"/></linearGradient>
</defs>
<g shape-rendering="crispEdges">
<polygon points="10.5,31.5 14.5,36 6.5,36" fill="#000" shape-rendering="geometricPrecision"/>
<polygon points="7,45 59,45 59,69 116,69 116,102 7,102" fill="#b40000"/>
<polygon points="8,46 58,46 58,70 115,70 115,101 8,101" fill="url(#gp)"/>
<polygon points="174,45 226,45 226,102 118,102 118,69 174,69" fill="#b40000"/>
<polygon points="175,46 225,46 225,101 119,101 119,70 175,70" fill="url(#gp)"/>
<rect x="11" y="68" width="44" height="1" fill="#8a0000"/>
<rect x="11" y="69" width="44" height="1" fill="#f86464"/>
<rect x="178" y="68" width="44" height="1" fill="#8a0000"/>
<rect x="178" y="69" width="44" height="1" fill="#f86464"/>
<!-- volume box -->
<rect x="61" y="45" width="111" height="22" fill="#a6a9b0"/>
<rect x="62" y="46" width="109" height="20" fill="#fff"/>
<rect x="63" y="47" width="19" height="18" fill="url(#gb)"/>
<rect x="82" y="46" width="1" height="20" fill="#a6a9b0"/>
<rect x="152" y="47" width="18" height="18" fill="url(#gb)"/>
<rect x="150" y="46" width="1" height="20" fill="#a6a9b0"/>
</g>
<polygon points="69,54 74,54 71.5,57" fill="#5a6cc8"/>
<polygon points="158,57 163,57 160.5,54" fill="#5a6cc8"/>
<!-- tab bar -->
<g shape-rendering="crispEdges">
<rect x="0" y="681" width="1206" height="1" fill="#e3e3e3"/>
<rect x="0" y="684" width="1206" height="18" fill="#f0f0f0"/>
<rect x="0" y="702" width="1206" height="1" fill="#f0f0f0"/>
<rect x="0" y="703" width="1206" height="1" fill="#ffffff"/>
<rect x="0" y="704" width="1206" height="1" fill="#f0f0f0"/>
<rect x="0" y="683" width="1206" height="1" fill="#000"/>
<rect x="0" y="684" width="1" height="18" fill="#696969"/>
<rect x="98" y="683" width="102" height="18" fill="#fff"/>
<rect x="97" y="683" width="1" height="19" fill="#000"/>
<rect x="200" y="683" width="1" height="19" fill="#000"/>
<rect x="97" y="701" width="104" height="1" fill="#000"/>
<rect x="99" y="702" width="103" height="1" fill="#cfcfcf"/>
<rect x="289" y="686" width="1" height="14" fill="#8a8a8a"/><rect x="393" y="686" width="1" height="14" fill="#8a8a8a"/><rect x="497" y="686" width="1" height="14" fill="#8a8a8a"/><rect x="585" y="686" width="1" height="14" fill="#8a8a8a"/><rect x="654" y="686" width="1" height="14" fill="#8a8a8a"/><rect x="729" y="686" width="1" height="14" fill="#8a8a8a"/><rect x="821" y="686" width="1" height="14" fill="#8a8a8a"/><rect x="913" y="686" width="1" height="14" fill="#8a8a8a"/>
</g>
<polygon points="1186,688 1186,696 1182,692" fill="#909090"/>
<polygon points="1201,688 1201,696 1205,692" fill="#909090"/>
</svg>
<span class="t" id="p0" style="left:1171.55px;top:50.00px;font-size:9.75px;color:#000;text-rendering:geometricPrecision;-webkit-text-stroke:0.2px;transform:scaleX(0.9339);">0.79960</span>
<span class="t" id="p1" style="left:1171.55px;top:83.00px;font-size:9.75px;color:#000;text-rendering:geometricPrecision;-webkit-text-stroke:0.2px;transform:scaleX(0.9339);">0.79260</span>
<span class="t" id="p2" style="left:1171.55px;top:116.00px;font-size:9.75px;color:#000;text-rendering:geometricPrecision;-webkit-text-stroke:0.2px;transform:scaleX(0.9339);">0.78560</span>
<span class="t" id="p3" style="left:1171.55px;top:149.00px;font-size:9.75px;color:#000;text-rendering:geometricPrecision;-webkit-text-stroke:0.2px;transform:scaleX(0.9339);">0.77860</span>
<span class="t" id="p4" style="left:1171.55px;top:182.00px;font-size:9.75px;color:#000;text-rendering:geometricPrecision;-webkit-text-stroke:0.2px;transform:scaleX(0.9339);">0.77160</span>
<span class="t" id="p5" style="left:1171.55px;top:215.00px;font-size:9.75px;color:#000;text-rendering:geometricPrecision;-webkit-text-stroke:0.2px;transform:scaleX(0.9339);">0.76460</span>
<span class="t" id="p6" style="left:1171.55px;top:248.00px;font-size:9.75px;color:#000;text-rendering:geometricPrecision;-webkit-text-stroke:0.2px;transform:scaleX(0.9339);">0.75760</span>
<span class="t" id="p7" style="left:1171.55px;top:281.00px;font-size:9.75px;color:#000;text-rendering:geometricPrecision;-webkit-text-stroke:0.2px;transform:scaleX(0.9339);">0.75060</span>
<span class="t" id="p8" style="left:1171.55px;top:314.00px;font-size:9.75px;color:#000;text-rendering:geometricPrecision;-webkit-text-stroke:0.2px;transform:scaleX(0.9339);">0.74360</span>
<span class="t" id="p9" style="left:1171.55px;top:347.00px;font-size:9.75px;color:#000;text-rendering:geometricPrecision;-webkit-text-stroke:0.2px;transform:scaleX(0.9339);">0.73660</span>
<span class="t" id="p10" style="left:1171.55px;top:380.00px;font-size:9.75px;color:#000;text-rendering:geometricPrecision;-webkit-text-stroke:0.2px;transform:scaleX(0.9339);">0.72960</span>
<span class="t" id="p11" style="left:1171.55px;top:413.00px;font-size:9.75px;color:#000;text-rendering:geometricPrecision;-webkit-text-stroke:0.2px;transform:scaleX(0.9339);">0.72280</span>
<span class="t" id="p12" style="left:1171.55px;top:446.00px;font-size:9.75px;color:#000;text-rendering:geometricPrecision;-webkit-text-stroke:0.2px;transform:scaleX(0.9339);">0.71580</span>
<span class="t" id="p13" style="left:1171.55px;top:479.00px;font-size:9.75px;color:#000;text-rendering:geometricPrecision;-webkit-text-stroke:0.2px;transform:scaleX(0.9339);">0.70880</span>
<div class="abs" style="left:1168px;top:177px;width:38px;height:11px;background:#ff0000"></div>
<span class="t" id="l1" style="left:1171.54px;top:179.00px;font-size:9.75px;color:#fff;text-rendering:geometricPrecision;-webkit-text-stroke:0.2px;transform:scaleX(0.9600);">0.77200</span>
<div class="abs" style="left:1168px;top:247px;width:38px;height:11px;background:#ff0000"></div>
<span class="t" id="l2" style="left:1171.53px;top:249.00px;font-size:9.75px;color:#fff;text-rendering:geometricPrecision;-webkit-text-stroke:0.2px;transform:scaleX(0.9718);">0.75716</span>
<div class="abs" style="left:1168px;top:328px;width:38px;height:11px;background:#00ff00"></div>
<span class="t" id="l3" style="left:1171.53px;top:330.00px;font-size:9.75px;color:#fff;text-rendering:geometricPrecision;-webkit-text-stroke:0.2px;transform:scaleX(0.9744);">0.74007</span>
<div class="abs" style="left:1168px;top:393px;width:38px;height:11px;background:#000000"></div>
<span class="t" id="l4" style="left:1171.53px;top:395.00px;font-size:9.75px;color:#fff;text-rendering:geometricPrecision;-webkit-text-stroke:0.2px;transform:scaleX(0.9737);">0.72661</span>
<div class="abs" style="left:1168px;top:403px;width:38px;height:11px;background:#0000ff"></div>
<span class="t" id="l5" style="left:1171.52px;top:405.00px;font-size:9.75px;color:#fff;text-rendering:geometricPrecision;-webkit-text-stroke:0.2px;">0.72411</span>
<div class="abs" style="left:1168px;top:474px;width:38px;height:11px;background:#0000ff"></div>
<span class="t" id="l6" style="left:1171.53px;top:476.00px;font-size:9.75px;color:#fff;text-rendering:geometricPrecision;-webkit-text-stroke:0.2px;transform:scaleX(0.9718);">0.70926</span>
<div class="abs" style="left:1168px;top:478px;width:38px;height:11px;background:#ff0000"></div>
<span class="t" id="l7" style="left:1171.54px;top:480.00px;font-size:9.75px;color:#fff;text-rendering:geometricPrecision;-webkit-text-stroke:0.2px;transform:scaleX(0.9600);">0.70820</span>
<span class="t" id="m1" style="left:1169.72px;top:491.00px;font-size:9.75px;color:#000;text-rendering:geometricPrecision;-webkit-text-stroke:0.2px;">0.008739</span>
<span class="t" id="m2" style="left:1169.73px;top:531.00px;font-size:9.75px;color:#000;text-rendering:geometricPrecision;-webkit-text-stroke:0.2px;transform:scaleX(0.9684);">0.00</span>
<span class="t" id="m3" style="left:1169.80px;top:561.00px;font-size:9.75px;color:#000;text-rendering:geometricPrecision;-webkit-text-stroke:0.2px;transform:scaleX(0.9850);">-0.00700</span>
<span class="t" id="r1" style="left:1169.42px;top:577.00px;font-size:9.75px;color:#000;text-rendering:geometricPrecision;-webkit-text-stroke:0.2px;transform:scaleX(0.9697);">100</span>
<span class="t" id="r2" style="left:1169.13px;top:597.00px;font-size:9.75px;color:#000;text-rendering:geometricPrecision;-webkit-text-stroke:0.2px;transform:scaleX(0.9400);">70</span>
<span class="t" id="r3" style="left:1169.12px;top:631.00px;font-size:9.75px;color:#000;text-rendering:geometricPrecision;-webkit-text-stroke:0.2px;transform:scaleX(0.9407);">30</span>
<span class="t" id="r4" style="left:1170.07px;top:650.00px;font-size:9.75px;color:#000;text-rendering:geometricPrecision;-webkit-text-stroke:0.2px;transform:scaleX(0.8947);">0</span>
<span class="t" id="mt" style="left:7.97px;top:493.00px;font-size:9.75px;color:#000;text-rendering:geometricPrecision;-webkit-text-stroke:0.2px;transform:scaleX(0.9553);">MACD(12,26,9) -0.001823 -0.002332</span>
<span class="t" id="rt" style="left:7.56px;top:579.00px;font-size:9.75px;color:#000;text-rendering:geometricPrecision;-webkit-text-stroke:0.2px;transform:scaleX(0.9606);">RSI(14) 47.3356</span>
<span class="t" id="d0" style="left:3.10px;top:666.00px;font-size:9.75px;color:#000;text-rendering:geometricPrecision;-webkit-text-stroke:0.2px;transform:scaleX(0.9311);">9 Jan 2021</span>
<span class="t" id="d1" style="left:67.06px;top:666.00px;font-size:9.75px;color:#000;text-rendering:geometricPrecision;-webkit-text-stroke:0.2px;transform:scaleX(0.9363);">28 Jan 2021</span>
<span class="t" id="d2" style="left:130.83px;top:666.00px;font-size:9.75px;color:#000;text-rendering:geometricPrecision;-webkit-text-stroke:0.2px;transform:scaleX(0.9545);">16 Feb 2021</span>
<span class="t" id="d3" style="left:195.05px;top:666.00px;font-size:9.75px;color:#000;text-rendering:geometricPrecision;-webkit-text-stroke:0.2px;transform:scaleX(0.9561);">6 Mar 2021</span>
<span class="t" id="d4" style="left:259.05px;top:666.00px;font-size:9.75px;color:#000;text-rendering:geometricPrecision;-webkit-text-stroke:0.2px;transform:scaleX(0.9468);">25 Mar 2021</span>
<span class="t" id="d5" style="left:322.82px;top:666.00px;font-size:9.75px;color:#000;text-rendering:geometricPrecision;-webkit-text-stroke:0.2px;transform:scaleX(0.9673);">13 Apr 2021</span>
<span class="t" id="d6" style="left:386.81px;top:666.00px;font-size:9.75px;color:#000;text-rendering:geometricPrecision;-webkit-text-stroke:0.2px;transform:scaleX(0.9780);">1 May 2021</span>
<span class="t" id="d7" style="left:451.03px;top:666.00px;font-size:9.75px;color:#000;text-rendering:geometricPrecision;-webkit-text-stroke:0.2px;transform:scaleX(0.9798);">20 May 2021</span>
<span class="t" id="d8" style="left:515.10px;top:666.00px;font-size:9.75px;color:#000;text-rendering:geometricPrecision;-webkit-text-stroke:0.2px;transform:scaleX(0.9353);">8 Jun 2021</span>
<span class="t" id="d9" style="left:579.06px;top:666.00px;font-size:9.75px;color:#000;text-rendering:geometricPrecision;-webkit-text-stroke:0.2px;transform:scaleX(0.9382);">26 Jun 2021</span>
<span class="t" id="d10" style="left:642.85px;top:666.00px;font-size:9.75px;color:#000;text-rendering:geometricPrecision;-webkit-text-stroke:0.2px;transform:scaleX(0.9368);">15 Jul 2021</span>
<span class="t" id="d11" style="left:706.96px;top:666.00px;font-size:9.75px;color:#000;text-rendering:geometricPrecision;-webkit-text-stroke:0.2px;transform:scaleX(0.9661);">3 Aug 2021</span>
<span class="t" id="d12" style="left:771.04px;top:666.00px;font-size:9.75px;color:#000;text-rendering:geometricPrecision;-webkit-text-stroke:0.2px;transform:scaleX(0.9580);">21 Aug 2021</span>
<span class="t" id="d13" style="left:835.10px;top:666.00px;font-size:9.75px;color:#000;text-rendering:geometricPrecision;-webkit-text-stroke:0.2px;transform:scaleX(0.9374);">9 Sep 2021</span>
<span class="t" id="d14" style="left:899.05px;top:666.00px;font-size:9.75px;color:#000;text-rendering:geometricPrecision;-webkit-text-stroke:0.2px;transform:scaleX(0.9499);">28 Sep 2021</span>
<span class="t" id="t0" style="left:19.64px;top:30.00px;font-size:9.75px;color:#000;text-rendering:geometricPrecision;-webkit-text-stroke:0.2px;transform:scaleX(0.9886);">AUDUSD,Daily</span>
<span class="t" id="t1" style="left:90.95px;top:30.00px;font-size:9.75px;color:#000;text-rendering:geometricPrecision;-webkit-text-stroke:0.2px;transform:scaleX(0.9334);">0.72817</span>
<span class="t" id="t2" style="left:127.25px;top:30.00px;font-size:9.75px;color:#000;text-rendering:geometricPrecision;-webkit-text-stroke:0.2px;transform:scaleX(0.9346);">0.72934</span>
<span class="t" id="t3" style="left:162.95px;top:30.00px;font-size:9.75px;color:#000;text-rendering:geometricPrecision;-webkit-text-stroke:0.2px;transform:scaleX(0.9306);">0.72615</span>
<span class="t" id="t4" style="left:198.75px;top:30.00px;font-size:9.75px;color:#000;text-rendering:geometricPrecision;-webkit-text-stroke:0.2px;transform:scaleX(0.9326);">0.72661</span>
<span class="t" id="b0" style="left:0.61px;top:6.00px;font-size:9.75px;color:#3c3c3c;text-rendering:geometricPrecision;transform:scaleX(0.9297);">5</span>
<span class="t" id="b1" style="left:15.25px;top:6.00px;font-size:9.75px;color:#3c3c3c;text-rendering:geometricPrecision;transform:scaleX(0.9784);">M30</span>
<span class="t" id="b2" style="left:45.69px;top:6.00px;font-size:9.75px;color:#3c3c3c;text-rendering:geometricPrecision;transform:scaleX(1.0526);">H1</span>
<span class="t" id="b3" style="left:73.19px;top:6.00px;font-size:9.75px;color:#3c3c3c;text-rendering:geometricPrecision;transform:scaleX(1.0563);">H4</span>
<span class="t" id="b4" style="left:101.88px;top:6.00px;font-size:9.75px;color:#3c3c3c;text-rendering:geometricPrecision;transform:scaleX(1.0617);">D1</span>
<span class="t" id="b5" style="left:129.71px;top:6.00px;font-size:9.75px;color:#3c3c3c;text-rendering:geometricPrecision;transform:scaleX(1.0177);">W1</span>
<span class="t" id="b6" style="left:155.77px;top:6.00px;font-size:9.75px;color:#3c3c3c;text-rendering:geometricPrecision;transform:scaleX(1.0815);">MN</span>
<span class="t" id="g0" style="left:16.42px;top:688.00px;font-size:12px;color:#7f7f7f;transform:scaleX(0.9893);">EURUSD,H4</span>
<span class="t" id="g1" style="left:107.67px;top:688.00px;font-size:12px;color:#000;transform:scaleX(1.0211);">AUDUSD,Daily</span>
<span class="t" id="g2" style="left:210.14px;top:688.00px;font-size:12px;color:#7f7f7f;transform:scaleX(1.0096);">USDCHF,H4</span>
<span class="t" id="g3" style="left:299.54px;top:688.00px;font-size:12px;color:#7f7f7f;transform:scaleX(1.0066);">USDCAD,Daily</span>
<span class="t" id="g4" style="left:402.73px;top:688.00px;font-size:12px;color:#7f7f7f;transform:scaleX(1.0253);">USDCNH,Daily</span>
<span class="t" id="g5" style="left:508.51px;top:688.00px;font-size:12px;color:#7f7f7f;transform:scaleX(1.0503);">UKOil,Daily</span>
<span class="t" id="g6" style="left:594.61px;top:688.00px;font-size:12px;color:#7f7f7f;transform:scaleX(1.0097);">DJ30,H1</span>
<span class="t" id="g7" style="left:664.65px;top:688.00px;font-size:12px;color:#7f7f7f;">USDX,H1</span>
<span class="t" id="g8" style="left:739.37px;top:688.00px;font-size:12px;color:#7f7f7f;transform:scaleX(1.0147);">XAUUSD,H4</span>
<span class="t" id="g9" style="left:832.34px;top:688.00px;font-size:12px;color:#7f7f7f;transform:scaleX(0.9915);">GBPUSD,H1</span>
<span class="t" id="s0" style="left:18.68px;top:51.00px;font-size:12px;color:#fff;transform:scaleX(0.8949);">SELL</span>
<span class="t" id="s1" style="left:186.75px;top:51.00px;font-size:12px;color:#fff;transform:scaleX(0.9561);">BUY</span>
<span class="t" id="s2" style="left:122.69px;top:50.00px;font-size:12px;color:#000;transform:scaleX(1.0376);">3.00</span>
<span class="t" id="s3" style="left:26.36px;top:87.00px;font-size:12px;color:#fff;font-weight:bold;transform:scaleX(1.0303);">0.72</span>
<span class="t" id="s4" style="left:136.36px;top:87.00px;font-size:12px;color:#fff;font-weight:bold;transform:scaleX(1.0303);">0.72</span>
<span class="t" id="s5" style="left:54.07px;top:68.00px;font-size:36px;color:#fff;transform:scaleX(0.9071);">66</span>
<span class="t" id="s6" style="left:165.13px;top:68.00px;font-size:36px;color:#fff;transform:scaleX(0.8757);">67</span>
<span class="t" id="s7" style="left:93.39px;top:71.00px;font-size:12px;color:#fff;font-weight:bold;transform:scaleX(1.1563);">4</span>
<span class="t" id="s8" style="left:204.28px;top:71.00px;font-size:12px;color:#fff;font-weight:bold;transform:scaleX(1.2397);">6</span>
</body></html>
